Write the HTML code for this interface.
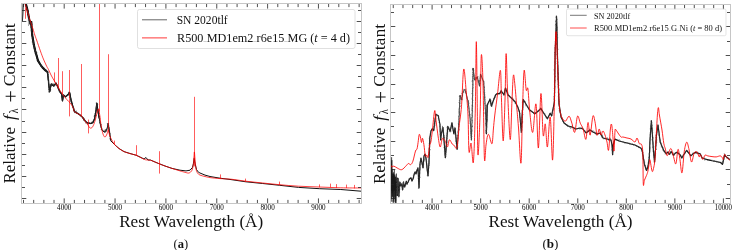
<!DOCTYPE html>
<html><head><meta charset="utf-8"><title>Spectra comparison</title><style>
html,body{margin:0;padding:0;background:#fff;}
body{width:735px;height:250px;overflow:hidden;}
svg{display:block;}
text{font-family:"Liberation Serif","DejaVu Serif",serif;fill:#111;}
.tl{font-size:7.5px;fill:#000;}
.lg1{font-size:12.2px;}
.lg2{font-size:8.2px;}
.xl{font-size:17.6px;}
.cap{font-size:12.5px;}
</style></head>
<body>
<svg width="735" height="250" viewBox="0 0 735 250">
<defs><clipPath id="cl"><rect x="21.5" y="3.5" width="340" height="200"/></clipPath><clipPath id="cr"><rect x="390.5" y="4.5" width="340" height="199"/></clipPath></defs>
<rect width="735" height="250" fill="#fff"/>
<g clip-path="url(#cl)" fill="none" stroke-linejoin="round" stroke-linecap="round">
<polyline points="25.6,3.0 27.5,10.0 29.3,20.0 30.5,24.0 31.2,22.0 32.2,35.0 33.8,44.6 35.3,51.0 38.0,60.6 40.0,64.0 42.5,67.5 45.5,70.5 47.5,72.0 49.6,92.0 50.4,88.0 51.2,84.0 53.6,86.0 56.0,83.0 57.6,86.4 60.0,92.0 61.6,94.0 62.5,101.0 63.4,95.0 65.6,96.8 68.8,93.6 69.6,92.4 71.0,100.0 74.4,111.6 77.0,113.0 80.4,115.2 82.8,117.6 85.0,121.0 87.6,123.0 91.0,123.5 93.0,122.5 94.5,119.0 96.0,111.0 96.8,103.0 97.6,109.0 99.0,117.0 100.5,125.0 102.0,130.0 104.0,132.0 106.0,131.0 107.5,127.0 108.2,123.5 108.9,128.0 110.8,140.8 114.4,144.4 119.0,148.5 124.0,151.6 130.0,153.5 136.0,155.2 140.0,157.0 144.0,159.0 146.0,157.5 148.0,160.0 150.4,160.0 155.0,162.0 158.8,163.6 165.0,166.0 172.0,168.4 180.0,170.2 186.0,170.9 190.0,170.2 192.5,167.4 193.5,163.2 194.2,158.3 195.0,163.2 196.5,169.5 198.5,172.3 200.0,173.0 205.0,175.1 210.0,176.5 220.0,178.2 231.0,179.6 245.9,181.8 262.7,183.5 279.6,185.3 298.6,187.4 319.7,188.7 340.8,189.5 361.0,191.2" stroke="#111" stroke-width="1.0"/>
<polyline points="25.6,3.0 27.5,10.0 29.3,20.0 30.5,24.0 31.2,22.0 32.2,35.0 33.8,44.6 35.3,51.0 38.0,60.6 40.0,64.0 42.5,67.5 45.5,70.5 47.5,72.0 49.6,92.0 50.4,88.0 51.2,84.0 53.6,86.0 56.0,83.0 57.6,86.4 60.0,92.0 61.6,94.0 62.5,101.0 63.4,95.0 65.6,96.8 68.8,93.6 69.6,92.4 71.0,100.0 74.4,111.6 77.0,113.0 80.4,115.2 82.8,117.6 85.0,121.0 87.6,123.0 91.0,123.5 93.0,122.5 94.5,119.0 96.0,111.0 96.8,103.0 97.6,109.0 99.0,117.0" stroke="#111" stroke-width="1.25"/>
<polyline points="25.6,3.0 27.5,10.0 29.3,20.0 30.5,24.0 31.2,22.0 32.2,35.0 33.8,44.6 35.3,51.0 38.0,60.6 40.0,64.0 42.5,67.5 45.5,70.5 47.5,72.0" stroke="#111" stroke-width="2.1"/>
<polyline points="28.3,19 28.5,26 29,22" stroke="#999" stroke-width="0.6"/>
<polyline points="22,3 22.2,12 22.4,21 23,14 23.5,3" stroke="#222" stroke-width="0.8"/>
<polyline points="25.1,2.0 26.1,1.5 25.9,2.1 26.6,4.9 26.8,4.9 26.6,5.7 26.2,6.6 26.1,6.8 27.2,7.7 26.8,10.2 27.2,8.3 27.4,8.9 27.3,9.7 28.5,10.6 27.8,11.9 28.7,11.7 27.7,14.7 27.4,12.8 28.5,15.8 27.9,12.2 28.7,14.5 28.3,16.0 28.7,16.5 28.5,18.0 29.5,17.5 28.8,18.8 29.3,17.8 29.0,20.3 29.3,19.7 29.6,20.6 29.7,19.6 30.7,22.2 29.7,23.5 30.4,23.3 31.0,26.0 31.0,24.8 31.9,21.7 31.0,22.7 30.5,22.4 31.9,24.2 31.6,22.2 32.4,25.0 31.8,25.5 30.7,24.4 31.0,28.1 31.2,26.7 31.5,28.1 31.9,28.4 31.2,26.0 31.8,29.7 32.4,30.0 31.6,31.0 31.2,30.3 31.5,32.2 33.0,33.2 32.6,33.4 32.2,33.4 32.0,32.2 31.7,33.8 32.7,36.2 32.9,37.6 32.4,37.7 33.5,37.4 33.2,37.9 32.1,38.7 32.5,39.3 32.8,40.1 32.1,42.3 33.8,40.7 32.9,41.6 33.7,42.6 33.7,41.0 33.1,44.6 33.8,42.6 33.4,43.3 33.5,46.3 34.0,46.9 34.3,45.2 34.1,49.2 34.2,46.8 35.3,48.5 34.8,50.4 34.2,50.1 34.7,49.1 34.9,52.1 35.4,49.9 35.1,53.6 36.3,51.8 37.1,53.1 35.6,53.9 36.7,56.1 37.0,54.8 36.4,54.5 36.8,55.9 37.1,55.8 36.9,56.8 36.8,57.1 37.0,57.7 37.9,59.5 37.2,60.5 38.1,61.9 38.2,61.0 38.3,61.8 39.2,62.5 39.2,63.4 39.7,63.7 39.6,64.2 39.9,63.7 40.8,66.9 41.5,65.5 41.3,66.9 42.4,67.6 42.1,67.2 42.3,67.2 42.5,67.7 42.4,67.3 44.0,67.9 44.5,68.0 44.5,70.0 44.6,69.4 46.6,69.9 45.7,70.3 46.5,71.2 47.5,72.4 47.3,71.7 46.9,71.2 47.3,73.9 47.7,74.6 48.2,74.3 48.8,74.5 47.6,75.2 48.5,76.1 47.7,77.2 48.6,77.4 48.0,79.1 48.7,79.5 47.9,79.5 48.5,78.2 48.9,80.6 48.3,83.2 48.6,81.0 48.6,82.8 49.0,82.9 48.3,82.9 48.4,83.2 48.8,84.3 48.9,84.6 48.6,85.8 48.9,87.6 48.7,87.3 49.1,86.6 49.6,88.5 48.3,89.5 49.8,88.8 50.2,90.3 48.9,91.3 49.4,90.2 48.6,92.2 49.4,91.9 50.0,90.2 49.8,91.6 50.9,90.0 50.1,87.8 50.2,89.5 50.7,87.1 50.1,86.8 50.4,86.0 51.3,86.3 51.1,84.4 51.3,85.7 51.9,83.1 52.9,85.0 54.2,84.8 53.1,85.3 53.8,85.5 53.3,83.7 54.3,84.5 54.5,86.4 55.6,85.0 55.4,83.8 55.9,82.8 56.6,84.1 56.7,84.3 56.1,84.0 57.2,84.9 57.0,86.2 57.2,85.8 58.2,86.6 58.7,88.0 58.7,89.1 57.6,88.6 58.2,88.8 59.0,90.9 59.3,91.8 59.3,90.8 59.8,92.3 60.0,91.4 60.2,91.2 61.4,93.7 61.4,93.8 61.3,93.6 62.1,93.9 61.4,96.7 62.6,96.2 62.2,96.7 62.7,96.8 62.1,98.3 62.8,98.2 62.4,98.6 62.0,99.1 62.5,101.2 62.2,100.5 62.4,100.7 63.0,98.7 62.9,98.3 63.2,97.7 62.5,97.4 63.0,96.5 63.2,96.9 63.3,96.4 63.7,94.9 63.4,95.0 63.0,95.8 64.2,95.3 64.8,96.4 65.7,97.2 65.7,97.0 66.7,95.5 67.0,96.2 67.6,95.6 67.9,95.5 69.3,94.5 68.1,95.2 68.9,91.8 68.5,92.8 70.2,93.9 69.7,95.0 69.9,93.8 70.1,95.1 70.2,95.9 69.3,97.6 70.2,97.4 70.2,97.6 70.6,96.7 70.9,99.3 70.4,97.5 70.7,99.2 71.2,100.6 72.1,101.7 71.4,101.9 70.4,101.5 71.4,102.8 72.2,103.7 72.6,103.4 72.5,104.5 72.5,105.5 72.6,106.0 72.9,107.3 73.0,107.2 74.4,108.1 73.6,109.1 73.1,109.3 74.1,109.7 74.3,110.6 74.6,109.9 74.4,110.5 75.0,111.7 74.5,112.0 75.2,113.2 76.2,110.7 76.8,113.9 77.7,112.8 78.4,114.3 79.4,114.9 79.4,113.8 80.0,115.1 80.4,115.6 80.3,116.2 81.4,116.5 81.8,116.4 82.4,117.8 82.7,117.9 82.8,118.5 83.5,117.6 84.4,118.5 84.3,118.7 83.9,121.0 84.4,119.1 85.4,120.0 85.9,123.4 86.4,122.5 87.3,122.8 87.5,124.3 88.2,123.4 89.0,122.1 89.8,123.3 90.6,124.0 91.7,121.8 91.4,122.7 91.9,123.2 93.0,122.6 92.5,121.1 93.5,120.9 93.5,120.6 93.9,119.2 95.0,119.0 94.8,119.5 95.0,117.9 94.3,118.2 95.0,115.1 93.8,116.1 94.9,115.7 95.4,114.4 96.5,115.5 96.0,114.3 94.6,113.7 95.4,113.2 95.7,112.8 95.5,111.3 96.0,110.3 95.9,110.9 97.0,109.6 96.6,108.1 96.0,108.8 96.6,107.0 96.6,107.4 97.0,107.5 96.7,105.7 96.7,104.7 96.2,103.2 96.1,103.1 96.7,103.7 96.2,102.9 97.1,104.4 96.9,104.4 96.9,105.6 96.4,105.6 96.2,107.5 97.7,104.7 97.1,105.9 96.7,107.4 97.1,109.3 97.4,108.0 97.7,110.0 98.2,110.7 97.3,110.1 97.9,110.7 98.5,111.8 98.2,112.4 98.4,112.0 99.4,113.4 98.2,113.0 98.6,113.9 98.9,116.8 99.2,116.0 99.6,116.8 99.1,117.7 99.0,118.6 98.8,117.3 100.0,118.8 99.4,120.4 99.5,119.6 99.7,120.5 100.2,121.5 99.9,123.2 99.5,121.8 100.6,124.9 100.4,123.7 101.0,125.4 101.1,124.0 100.8,125.3 100.6,127.4 101.6,127.1 101.3,129.3 101.9,128.6 102.0,129.5 101.4,129.5 102.6,131.0 102.5,130.3 103.2,130.1 104.5,132.4 105.2,129.7 105.0,132.9 105.4,129.4 106.3,131.8 106.7,129.0 106.9,129.6 107.0,129.0 107.4,129.2 107.9,128.5 107.4,125.3 107.9,125.0 108.8,124.6 107.1,123.3 108.2,124.5 108.5,123.7 107.9,124.9 108.1,123.4 108.9,125.9 108.2,125.8 109.1,127.5 108.3,128.3 107.7,128.1 109.2,128.5 109.1,127.8 109.1,130.3 108.8,130.5 109.3,129.0 109.2,132.2 108.8,132.3 109.8,131.7 109.6,134.3 110.1,133.2 110.3,135.0 110.0,136.6 110.4,136.2 110.6,137.1 110.8,137.0 109.6,139.1 110.8,138.8 110.5,138.9 110.7,138.7 111.0,140.3 110.8,140.8" stroke="#333" stroke-width="0.5"/>
<path d="M24.80,3.00C25.17,4.17 26.13,7.17 27.00,10.00C27.87,12.83 29.00,16.83 30.00,20.00C31.00,23.17 32.20,26.50 33.00,29.00C33.80,31.50 34.20,33.17 34.80,35.00C35.40,36.83 35.67,37.33 36.60,40.00C37.53,42.67 39.27,47.83 40.40,51.00C41.53,54.17 42.33,56.42 43.40,59.00C44.47,61.58 45.95,64.75 46.80,66.50C47.65,68.25 47.80,68.08 48.50,69.50C49.20,70.92 50.02,73.08 51.00,75.00C51.98,76.92 53.23,79.00 54.40,81.00C55.57,83.00 56.80,85.00 58.00,87.00C59.20,89.00 60.43,91.25 61.60,93.00C62.77,94.75 63.80,96.07 65.00,97.50C66.20,98.93 67.80,100.52 68.80,101.60C69.80,102.68 70.20,102.80 71.00,104.00C71.80,105.20 73.03,107.53 73.60,108.80C74.17,110.07 73.27,110.53 74.40,111.60C75.53,112.67 79.00,114.20 80.40,115.20C81.80,116.20 82.03,116.63 82.80,117.60C83.57,118.57 84.13,119.77 85.00,121.00C85.87,122.23 87.17,123.83 88.00,125.00C88.83,126.17 89.25,127.67 90.00,128.00C90.75,128.33 91.67,128.17 92.50,127.00C93.33,125.83 94.25,123.33 95.00,121.00C95.75,118.67 96.40,115.00 97.00,113.00C97.60,111.00 98.10,108.33 98.60,109.00C99.10,109.67 99.60,114.33 100.00,117.00C100.40,119.67 100.50,122.17 101.00,125.00C101.50,127.83 102.33,132.00 103.00,134.00C103.67,136.00 104.33,137.00 105.00,137.00C105.67,137.00 106.47,135.17 107.00,134.00C107.53,132.83 107.78,129.83 108.20,130.00C108.62,130.17 109.03,133.58 109.50,135.00C109.97,136.42 110.18,136.93 111.00,138.50C111.82,140.07 113.07,142.73 114.40,144.40C115.73,146.07 117.40,147.30 119.00,148.50C120.60,149.70 122.17,150.75 124.00,151.60C125.83,152.45 128.00,153.00 130.00,153.60C132.00,154.20 134.33,154.60 136.00,155.20C137.67,155.80 138.40,156.43 140.00,157.20C141.60,157.97 143.87,159.30 145.60,159.80C147.33,160.30 148.83,159.83 150.40,160.20C151.97,160.57 153.60,161.43 155.00,162.00C156.40,162.57 157.13,162.93 158.80,163.60C160.47,164.27 162.80,165.20 165.00,166.00C167.20,166.80 169.50,167.58 172.00,168.40C174.50,169.22 177.83,170.25 180.00,170.90C182.17,171.55 183.50,171.95 185.00,172.30C186.50,172.65 187.83,173.35 189.00,173.00C190.17,172.65 191.28,171.60 192.00,170.20C192.72,168.80 192.97,166.93 193.30,164.60C193.63,162.27 193.82,158.30 194.00,156.20C194.18,154.10 194.23,151.53 194.40,152.00C194.57,152.47 194.73,156.20 195.00,159.00C195.27,161.80 195.58,166.47 196.00,168.80C196.42,171.13 196.83,171.95 197.50,173.00C198.17,174.05 198.75,174.52 200.00,175.10C201.25,175.68 203.33,176.08 205.00,176.50C206.67,176.92 207.50,177.25 210.00,177.60C212.50,177.95 216.50,178.33 220.00,178.60C223.50,178.87 226.68,178.77 231.00,179.20C235.32,179.63 240.62,180.57 245.90,181.20C251.18,181.83 257.08,182.42 262.70,183.00C268.32,183.58 273.62,184.17 279.60,184.70C285.58,185.23 291.92,185.82 298.60,186.20C305.28,186.58 312.67,186.73 319.70,187.00C326.73,187.27 333.92,187.63 340.80,187.80C347.68,187.97 357.63,187.97 361.00,188.00" stroke="#f00" stroke-width="0.75"/>
<g stroke="#f00" stroke-width="0.75" stroke-opacity="0.85"><line x1="25.5" y1="8" x2="25.5" y2="18.4"/><line x1="54.5" y1="72.8" x2="54.5" y2="82"/><line x1="58.5" y1="58.4" x2="58.5" y2="88"/><line x1="62.5" y1="71.6" x2="62.5" y2="94"/><line x1="69.5" y1="70.4" x2="69.5" y2="116"/><line x1="81.5" y1="64.4" x2="81.5" y2="116"/><line x1="88.5" y1="120" x2="88.5" y2="133"/><line x1="99.5" y1="3" x2="99.5" y2="111"/><line x1="108.5" y1="54.6" x2="108.5" y2="131"/><line x1="114.5" y1="141" x2="114.5" y2="144.6"/><line x1="136.5" y1="145.6" x2="136.5" y2="155.5"/><line x1="159.5" y1="151.6" x2="159.5" y2="173.2"/><line x1="194.5" y1="97.2" x2="194.5" y2="166"/><line x1="220.5" y1="174.8" x2="220.5" y2="178.2"/><line x1="245.5" y1="179" x2="245.5" y2="181.5"/><line x1="279.5" y1="182" x2="279.5" y2="184.8"/><line x1="319.5" y1="184.8" x2="319.5" y2="187"/><line x1="330.5" y1="184" x2="330.5" y2="187.3"/><line x1="336.5" y1="184.5" x2="336.5" y2="187.5"/><line x1="346.5" y1="185" x2="346.5" y2="187.7"/><line x1="354.5" y1="185.3" x2="354.5" y2="188"/></g>
</g>
<g clip-path="url(#cr)" fill="none" stroke-linejoin="round" stroke-linecap="round">
<polyline points="390.7,159.9 390.8,197.6 391.0,161.4 391.1,198.5 391.3,164.5 391.4,190.9 391.6,157.2 391.8,201.7 391.9,160.1 392.1,193.3 392.2,168.9 392.4,196.6 392.5,176.0 392.7,196.7 392.8,173.7 393.0,192.1 393.1,173.6 393.3,202.2 393.4,172.3 393.6,200.4 393.7,174.1 393.9,190.9 394.0,175.1 394.2,198.3 394.3,169.6 394.5,190.4 394.6,176.4 394.8,196.6 394.9,174.6 395.1,202.3 395.2,180.6 395.4,202.9 395.5,176.7 395.7,201.2 395.8,177.3 396.0,203.1 396.1,182.5 396.3,191.4 396.4,173.6 396.6,193.0 396.7,183.6 396.9,196.1 397.0,179.5 397.2,194.2 397.0,193.0" stroke="#1a1a1a" stroke-width="0.55"/>
<polyline points="397.0,179.5 397.2,194.2 397.3,178.1 397.5,195.4 397.0,193.0 398.0,178.4 398.9,196.8 399.8,182.0 400.7,185.8 401.7,184.0 402.6,190.0 403.5,182.0 404.4,187.0 405.0,186.0 406.3,181.2 407.0,184.0 408.1,182.0 409.0,180.0 410.0,178.4 411.0,178.0 412.0,181.0 413.0,179.0 414.0,175.0 415.0,172.0 416.0,174.0 417.0,170.0 418.0,168.0 419.0,188.0 420.0,164.0 421.0,158.0 422.0,163.0 423.0,168.0 424.0,156.0 425.0,154.0 426.0,158.0 427.0,168.0 428.0,176.0 429.0,162.0 429.8,138.0 431.0,131.0 432.2,128.8 433.7,130.6 435.8,114.4 438.2,115.6 439.9,124.0 440.6,140.0 441.5,133.0 443.0,127.6 445.4,157.6 447.8,126.4 450.2,131.2 451.9,122.8 453.8,133.6 455.0,128.0 457.2,149.0" stroke="#111" stroke-width="1.15"/>
<polyline points="457.2,149.0 459.0,120.0 460.0,95.0 461.5,100.0 463.0,92.0 464.8,89.4 466.5,95.0 468.4,103.4 470.2,120.0 471.4,140.0 472.3,110.0 473.2,68.0 474.6,80.0 477.4,76.8 479.5,86.0 480.6,74.0 483.7,82.0 485.4,110.0 486.4,133.8 487.2,105.0" stroke="#333" stroke-width="0.8"/>
<polyline points="486.4,133.8 487.2,105.0 490.0,99.2 491.4,106.2 492.8,102.0 495.6,95.0 497.0,93.6 499.8,93.6 501.2,90.8 504.0,95.0 505.4,88.0 508.2,95.0 512.4,99.2 515.2,102.0 518.0,107.6 519.5,112.0 520.6,124.0 521.4,132.0 522.3,112.0 523.3,99.5 526.4,104.8 529.2,109.5 530.5,110.5 532.4,112.0 534.8,113.8 537.0,112.0 539.5,110.0 540.8,108.4 542.6,111.4 545.0,115.0 547.4,118.8 550.2,113.2 551.6,116.0 554.4,102.0 555.2,50.0 556.1,28.0 556.5,16.2 556.9,28.0 557.3,50.0 559.0,104.0 561.0,117.0 564.0,123.0 568.0,126.0 572.0,127.0 576.0,129.0 580.0,128.0 583.0,129.0 586.0,133.0 590.0,130.0 593.0,132.0 597.0,134.0 600.0,133.0 603.0,138.0 607.0,139.0 611.0,140.0 612.0,145.0 612.6,154.6 613.2,145.0 615.0,139.0 619.0,141.0 623.0,142.0 627.0,143.0 631.0,144.0 635.0,145.0 638.0,146.4 641.0,148.2 642.2,150.6 644.4,164.2 646.5,170.5 647.9,167.0 649.3,158.0 650.0,140.0 651.4,120.8 652.4,135.0 653.5,152.0 654.5,162.0 655.5,150.0 656.5,135.0 658.0,125.0 660.2,142.0 663.8,150.6 666.2,153.6 668.0,151.8 669.2,154.5 671.3,151.7 673.4,155.2 676.2,152.4 678.3,153.1 680.4,155.2 681.8,158.0 683.9,154.5 686.7,150.3 688.8,153.1 690.9,155.9 693.0,153.8 695.1,152.4 697.9,153.1 700.1,153.8 702.2,158.0 704.3,158.7 706.4,159.4 709.2,160.1 712.0,160.8 716.2,161.5 720.4,162.5 722.5,164.3 723.2,161.5 724.6,155.0 726.0,156.6 728.8,158.7 730.0,159.4" stroke="#111" stroke-width="1.15"/>
<polyline points="396.9,179.9 396.9,179.9 396.7,180.6 397.4,181.7 397.4,182.1 397.2,182.7 396.5,183.8 397.2,184.2 396.5,183.2 396.7,184.7 397.2,185.6 397.3,185.8 397.2,187.1 396.8,188.7 397.3,188.9 396.9,188.2 397.0,189.2 397.3,190.1 397.0,189.9 396.9,192.0 396.8,191.9 397.3,191.3 397.2,193.9 396.4,193.4 397.1,193.6 397.3,193.6 396.6,193.6 397.4,193.0 397.7,192.0 397.2,190.2 397.4,190.1 397.0,189.0 396.9,188.9 397.7,187.2 396.7,188.2 397.7,187.8 396.6,185.0 397.4,185.6 396.8,186.2 397.6,185.0 397.3,184.6 397.8,184.1 397.4,183.4 396.7,183.3 397.6,182.2 396.6,180.7 397.6,179.3 397.2,180.7 396.8,180.5 397.5,178.6 397.4,178.5 397.3,179.5 397.1,179.0 397.7,180.0 397.0,181.2 397.8,180.9 396.8,181.7 397.3,182.2 397.8,182.3 397.8,182.8 397.1,184.7 397.8,185.5 397.5,185.6 397.4,186.5 397.3,186.9 397.6,187.4 397.7,188.4 398.1,188.8 397.2,189.0 397.4,190.5 397.3,190.7 398.1,189.3 397.0,191.9 397.6,192.5 397.3,193.4 397.5,193.2 398.3,194.4 397.3,194.7 397.4,195.4 396.4,194.5 397.6,193.4 397.1,194.3 397.3,194.0 396.4,192.1 397.0,192.2 397.5,189.3 397.5,189.6 397.4,188.9 397.3,190.2 397.2,188.9 397.6,188.2 397.3,188.6 397.8,186.7 398.4,185.5 397.8,185.5 397.6,185.6 397.7,184.9 397.1,182.8 397.9,182.6 397.3,181.6 398.2,182.6 398.3,180.8 397.8,180.0 398.1,181.3 397.6,180.7 398.3,178.9 397.3,179.4 398.0,178.6 398.2,179.9 398.6,179.5 398.5,181.9 398.7,181.3 397.9,182.8 398.3,182.8 398.7,183.1 397.5,183.6 397.7,185.1 398.4,184.7 398.4,186.3 398.4,187.3 398.4,187.7 399.0,188.7 398.2,188.8 397.9,188.1 397.9,190.2 398.1,190.0 398.5,190.6 398.4,191.4 399.3,191.9 398.9,193.2 398.7,192.2 398.6,194.5 398.2,193.9 399.2,195.5 398.8,196.1 398.9,195.4 398.4,196.4 399.3,195.8 398.7,195.0 398.5,194.9 398.6,194.6 398.3,193.9 398.9,191.7 399.4,192.3 398.4,191.3 399.3,190.9 399.5,191.2 399.5,190.2 399.8,189.9 399.5,187.3 399.7,189.1 399.4,187.2 400.2,185.7 399.7,188.0 399.3,186.2 400.3,185.0 399.8,185.1 399.4,183.8 399.8,183.8 399.8,182.5 399.4,181.7 400.3,182.7 399.8,182.7 401.2,184.7 400.6,182.7 400.8,185.5 401.3,186.1 401.0,185.6 400.7,185.3 401.8,183.5 402.3,185.9 401.4,184.7 402.1,185.9 401.9,185.7 402.9,187.7 401.8,186.7 402.9,188.9 403.1,189.4 402.2,189.6 401.8,189.5 402.6,189.8 402.5,188.7 403.0,188.4 403.1,187.7 402.8,187.5 403.0,185.7 402.9,185.7 403.1,185.2 403.2,184.6 403.2,183.0 403.5,184.0 403.6,182.5 403.7,181.3 402.9,182.7 403.4,183.8 403.5,182.0 403.6,185.6 403.9,184.2 403.9,186.1 404.5,186.5 404.9,187.5 405.0,186.4 405.7,186.1 405.7,184.0 405.4,184.7 405.5,184.3 406.0,183.6 405.9,184.2 406.6,181.6 406.3,183.0 406.4,182.5 407.0,182.6 406.4,183.4 407.1,184.8 407.6,183.4 408.0,183.0 408.2,182.0 408.3,181.8 408.3,180.2 409.0,179.0 409.2,178.1 409.4,179.3 410.2,178.4 410.9,177.0 411.8,179.0 411.8,178.6 411.5,178.5 412.1,181.1 411.3,181.0 412.6,179.1 412.0,178.9 412.8,178.0 413.2,178.5 413.6,178.2 414.0,177.8 413.2,176.0 413.5,174.9 414.0,175.0 414.4,173.3 414.0,173.8 414.5,173.0 414.8,172.1 415.2,172.2 415.3,172.2 415.6,171.4 415.7,174.0 415.6,173.5 416.4,171.7 416.4,171.8 416.8,171.8 416.8,170.1 416.9,170.0 417.6,169.5 417.4,167.7 417.9,167.5 417.6,168.5 417.9,169.3 418.3,169.5 418.9,170.2 418.5,171.1 418.6,170.0 417.9,172.4 418.5,174.5 418.4,174.4 418.6,174.7 418.5,174.6 418.5,174.5 418.8,175.2 418.5,178.0 418.4,177.1 418.9,177.7 418.2,178.5 418.7,179.4 418.3,180.7 419.2,180.1 418.7,180.4 419.2,180.8 418.9,181.6 418.5,183.0 419.2,183.1 418.6,184.3 418.8,184.6 419.4,185.8 418.7,187.2 418.9,186.7 418.7,186.8 418.4,188.6 419.5,187.1 418.5,186.3 419.5,186.5 419.1,186.0 419.1,184.8 419.1,184.0 419.1,184.6 419.3,183.6 418.9,183.3 419.1,183.7 419.5,181.9 419.1,180.9 419.0,180.6 419.4,180.6 419.5,181.1 419.1,179.0 420.4,177.1 419.2,177.9 419.5,177.5 419.4,176.9 419.5,176.5 418.9,174.8 419.5,174.1 419.2,174.6 419.4,174.0 419.9,173.2 419.8,172.3 419.2,171.8 419.9,170.8 419.7,171.1 419.4,170.4 420.4,169.0 419.9,168.7 420.4,168.4 420.2,167.1 419.9,167.0 419.3,167.4 420.2,164.6 420.2,165.1 420.1,164.9 419.5,163.9 420.6,163.0 419.8,161.8 419.9,162.4 421.0,161.9 420.6,162.6 420.4,159.9 420.9,160.2 420.4,158.4 421.0,158.8 420.5,157.9 420.9,158.9 421.2,159.2 421.3,160.6 422.0,160.2 421.9,160.6 421.8,162.3 422.4,162.1 422.0,163.1 421.6,163.6 422.0,164.5 422.0,163.5 422.5,165.7 422.4,166.7 422.7,166.3 423.0,166.3 422.8,168.0 423.3,167.3 423.2,166.3 423.3,167.4 423.0,167.3 423.0,165.0 423.4,165.1 422.9,162.3 423.6,163.8 423.7,164.4 423.6,162.2 423.9,161.7 424.2,159.9 423.5,157.8 424.0,159.3 424.1,160.5 423.8,158.2 423.7,157.2 423.7,157.6 424.0,156.6 423.9,156.6 424.5,155.2 424.9,154.6 424.6,155.0 425.3,154.0 425.7,155.6 425.0,157.1 425.8,157.3 425.9,157.2 425.5,158.7 426.1,158.4 426.2,159.3 426.4,159.6 426.2,159.0 426.2,161.6 426.8,161.5 426.4,163.5 426.4,163.5 427.1,163.7 427.1,163.8 426.8,164.8 426.8,166.3 427.6,165.7 426.7,167.1 426.6,167.7 427.2,167.8 427.3,167.5 427.4,168.1 427.0,169.5 427.2,171.1 427.4,170.8 427.7,172.8 427.5,172.6 428.0,173.1 427.2,175.3 428.5,172.8 427.8,175.1 428.3,175.9 427.9,175.3 428.1,176.1 427.7,174.1 428.1,172.8 428.1,173.3 428.4,172.5 428.0,172.1 428.3,171.3 428.4,171.7 428.8,171.7 428.2,169.6 427.6,170.6 428.3,168.7 428.7,167.1 428.8,167.5 428.0,167.1 429.1,165.0 429.0,165.8 428.9,165.4 429.3,164.3 429.2,163.5 429.2,162.6 428.9,163.8 429.2,161.9 428.6,160.8 429.1,161.5 429.2,160.6 429.1,160.5 429.0,158.6 429.4,158.4 429.0,157.4 429.1,157.6 429.3,155.8 429.3,156.1 428.9,155.9 429.1,154.6 429.5,155.1 429.0,153.9 429.0,154.6 429.1,153.2 429.1,152.4 430.1,149.4 429.2,151.0 429.4,149.5 430.2,149.5 428.9,149.4 428.9,149.0 429.3,147.7 429.9,147.1 429.0,145.2 430.0,146.3 429.3,145.8 429.8,145.1 428.8,143.8 429.9,143.9 429.9,141.1 429.7,142.5 430.6,140.9 429.6,141.0 430.0,140.1 430.1,139.2 429.9,138.8 429.8,138.1 429.2,138.8 430.0,137.0 430.1,137.4 429.8,136.0 430.4,135.8 430.2,133.3 430.9,134.4 430.6,133.4 430.8,132.6 430.4,131.8 430.7,131.2 430.6,131.4 430.8,130.9 431.2,130.1 432.4,129.5 431.9,128.8 432.8,128.2 433.0,130.1 433.5,130.7 434.0,130.5 434.2,129.8 433.8,128.8 433.9,128.0 434.0,126.4 434.1,127.0 433.9,126.4 434.5,125.7 435.1,123.4 434.4,123.3 434.9,125.9 433.8,123.5 434.9,122.6 435.0,120.6 435.2,121.9 435.0,120.6 435.2,120.1 435.2,119.4 434.4,119.2 435.3,119.1 435.0,118.0 435.6,117.5 435.9,118.2 435.2,114.9 435.9,116.7 436.0,115.6 435.6,113.9 436.7,114.1 436.4,114.3 438.5,116.6 438.0,115.1 438.4,115.7 438.9,116.7 438.2,118.3 438.5,118.2 438.8,118.4 439.0,118.7 438.4,118.3 438.7,119.9 439.3,121.0 439.6,121.7 439.3,121.7 438.9,122.7 439.9,123.8 439.9,123.9 440.3,124.6 440.2,125.6 440.1,126.8 439.8,126.2 439.8,126.5 440.6,128.9 440.1,128.7 440.5,129.5 440.6,128.7 439.9,130.5 440.7,130.8 439.9,131.1 440.0,131.4 440.8,132.2 440.3,134.7 440.7,134.1 440.1,134.7 441.0,135.5 440.9,135.8 440.6,136.2 440.6,137.8 440.0,137.5 440.6,137.8 440.4,139.3 441.3,139.8 440.7,138.9 441.4,139.4 440.8,137.9 440.8,137.3 441.0,137.8 441.0,137.0 440.8,137.2 440.9,134.3 441.2,134.4 441.0,134.0 441.5,132.8 441.5,134.0 441.9,132.3 441.9,131.7 442.0,131.7 442.1,128.9 442.3,129.4 442.7,129.0 442.7,130.3 442.5,127.4 442.5,125.9 442.4,128.5 442.9,127.5 442.6,129.8 442.9,129.7 443.4,131.5 444.0,131.9 443.4,131.9 444.0,133.4 443.3,133.3 443.6,133.6 443.4,133.3 443.4,133.7 444.1,135.8 443.2,137.0 444.0,135.3 444.4,137.8 444.5,136.9 444.0,138.7 444.0,139.1 444.3,138.6 443.6,139.2 443.9,140.4 444.2,141.6 444.2,141.5 444.0,143.3 444.5,143.3 444.2,144.9 444.1,144.9 444.8,144.8 444.7,144.8 444.8,146.3 444.0,147.3 444.3,148.3 444.4,147.9 444.8,148.4 444.8,148.8 445.0,149.8 444.9,148.5 445.3,151.0 444.3,151.7 445.1,152.9 444.6,153.9 445.0,155.1 445.1,154.5 445.0,153.8 445.6,155.8 445.8,156.4 445.1,155.2 445.1,156.5 445.1,158.0 445.6,156.8 445.6,156.3 445.6,156.3 445.9,154.7 445.1,155.6 445.7,154.8 445.1,153.2 445.8,151.8 445.6,152.7 446.2,152.7 445.6,150.0 446.1,151.1 446.1,148.9 446.3,149.8 446.3,148.3 446.2,148.6 446.0,146.1 446.3,147.1 446.3,146.8 446.1,145.5 446.3,145.4 447.0,144.2 447.2,144.9 446.8,143.6 447.2,142.5 446.6,141.3 446.8,142.3 446.9,141.1 446.7,140.3 446.3,140.3 446.7,138.2 446.6,137.8 447.2,138.5 446.5,137.8 447.3,136.2 446.5,135.5 446.9,135.6 447.0,133.4 447.3,133.1 447.6,132.8 447.0,132.4 447.1,133.3 447.7,132.2 447.5,130.1 447.3,130.2 447.2,130.4 447.3,128.9 447.2,127.4 447.9,129.1 447.8,126.9 446.8,127.1 448.2,126.6 448.4,128.0 448.8,127.3 449.1,128.7 448.5,128.5 448.8,129.3 449.8,129.3 449.2,131.5 450.3,132.2 449.9,131.3 451.2,131.4 450.5,129.6 450.6,129.5 451.2,128.3 450.5,128.1 450.9,127.4 451.3,127.5 451.7,125.5 451.5,126.4 451.3,124.9 452.1,124.9 452.0,122.5 451.5,123.0 452.1,125.2 451.8,124.8 452.5,123.4 452.0,125.3 452.3,125.7 452.7,125.8 452.8,126.6 452.6,128.0 452.6,128.4 453.5,128.8 453.0,129.9 453.0,130.8 452.8,131.0 453.2,130.6 454.1,131.2 454.2,132.9 454.2,132.3 454.2,134.6 453.9,132.9 454.9,132.5 454.1,131.3 454.5,131.3 454.5,131.7 454.5,130.2 455.2,128.5 455.2,129.9 454.5,127.2 454.7,127.3 455.3,127.9 455.4,130.8 454.7,130.2 454.6,131.5 455.1,131.4 455.5,132.6 455.4,132.8 455.4,133.5 455.2,134.0 455.0,134.3 456.4,135.3 455.4,136.0 455.5,135.2 455.7,137.5 456.1,137.5 455.7,137.4 456.6,139.0 455.9,137.9 455.8,141.7 455.9,140.5 456.5,141.1 456.3,140.8 456.1,143.6 456.3,143.6 456.0,143.4 456.8,144.9 456.4,145.2 457.0,144.9 457.1,145.4 456.7,146.6 456.1,147.1 456.7,146.8 457.0,148.9 457.1,149.9 456.8,147.5 457.8,148.1 457.6,146.6 457.6,146.8 457.6,146.0 457.8,144.9 457.1,143.7 457.9,143.6 457.2,142.9 457.4,142.1 457.5,141.9 457.5,141.1 457.7,140.8 457.8,140.7 457.9,138.4 457.6,138.8 458.1,137.6 457.6,137.9 457.8,138.2 457.8,137.6 457.5,135.0 458.5,136.0 458.2,135.2 458.3,133.6 458.5,133.5 458.5,133.4 457.5,131.8 458.6,132.0 458.1,131.6 458.2,130.5 458.4,130.4 458.9,129.7 459.1,130.3 459.1,129.2 458.6,128.0 458.5,126.7 458.6,126.2 459.2,126.4 458.5,124.1 458.7,124.5 458.4,123.4 458.0,124.0 458.8,124.8 458.8,122.3 459.4,121.9 459.0,120.9 458.8,121.7 459.4,121.2 458.9,119.4 458.7,119.5 458.6,118.6 459.5,118.5 458.8,117.7 458.9,115.8 458.7,116.5 459.8,114.7 459.0,114.3 460.1,114.6 459.1,112.0 459.1,113.5 460.0,111.9 459.1,111.1 458.7,111.5 459.0,111.0 458.8,108.7 459.5,108.5 459.7,108.4 459.1,108.2 459.8,105.9 460.2,106.9 459.8,104.7 459.3,105.1 460.0,103.7 459.3,102.7 459.6,103.8 459.1,102.5 459.9,103.4 460.0,101.5 459.3,100.4 459.5,100.6 459.8,101.0 459.9,98.5 460.4,99.3 459.9,97.5 459.2,96.7 460.2,96.3 459.5,96.4 460.1,96.0 460.2,96.0 459.9,96.3 460.0,96.7 460.6,97.0 461.1,97.5 461.3,98.7 461.2,98.4 461.0,99.0 461.4,100.0 462.7,99.8 462.0,98.2 461.6,97.9 462.0,96.8 462.6,96.5 462.6,94.7 462.3,95.9 462.5,95.5 462.6,94.6 462.0,93.3 461.9,93.7 463.0,92.5 462.7,91.6 464.0,92.7 463.7,91.9 463.5,89.1 464.3,89.3 464.6,89.5 466.0,89.6 465.2,90.8 465.4,91.9 466.2,91.0 465.8,92.3 466.1,92.1 465.5,92.1 466.5,94.5 466.5,93.3 466.5,95.1 466.3,95.6 467.2,97.2 467.0,97.8 467.0,98.0 467.3,99.0 467.4,99.1 467.5,99.3 468.5,100.8 468.0,102.6 468.5,100.5 468.4,102.8 468.9,103.7 468.7,102.6 468.2,104.2 468.7,103.9 468.5,105.0 468.7,106.1 468.6,105.6 469.2,108.2 468.8,108.4 469.1,108.8 469.2,108.4 469.3,110.3 468.8,111.5 469.9,112.1 470.0,111.9 469.2,111.6 469.1,112.7 469.5,113.7 468.8,115.5 470.4,114.4 469.9,115.4 469.8,115.6 469.8,115.7 469.9,116.9 470.0,116.9 470.0,118.2 470.3,118.0 470.3,120.1 470.4,119.7 470.1,120.4 470.5,122.3 470.3,121.4 470.5,122.6 470.1,122.5 470.4,124.1 470.0,123.5 470.7,124.0 470.6,125.7 470.5,125.3 470.6,126.4 470.8,126.7 471.1,126.7 470.6,128.5 471.1,128.7 471.0,129.3 471.1,131.5 470.7,131.2 470.6,132.2 471.4,132.1 470.6,133.0 471.4,134.1 471.3,132.7 470.8,135.5 470.7,135.9 471.8,136.3 471.6,136.1 470.8,136.9 471.2,137.5 471.5,138.1 471.4,139.1 471.4,140.7 471.6,140.1 471.3,139.0 471.9,138.9 471.1,137.8 471.4,137.3 471.9,136.2 471.7,136.5 471.1,135.8 471.5,135.6 471.4,134.8 471.0,133.2 471.9,134.1 471.6,132.4 472.0,130.7 471.4,132.1 471.9,130.3 471.0,131.4 471.8,129.2 471.7,129.8 470.8,129.4 472.0,126.5 472.0,126.2 472.2,127.1 472.6,125.8 471.8,126.3 471.6,124.5 471.7,124.3 471.5,124.1 472.1,123.3 472.5,122.4 472.4,121.6 472.2,120.0 472.0,120.7 471.8,119.8 471.9,119.1 471.3,118.6 471.9,118.0 471.7,117.7 472.4,117.0 471.9,117.6 472.5,116.6 472.5,115.2 472.1,115.6 472.0,114.1 472.3,113.9 472.1,113.7 472.2,112.9 472.6,112.3 472.5,110.4 471.8,110.2 472.5,111.1 471.9,109.6 472.0,108.3 472.2,108.7 472.4,108.4 472.0,107.6 472.7,106.4 472.6,105.4 472.0,104.9 472.2,106.6 472.3,105.2 472.5,103.6 472.7,102.3 472.8,102.5 471.9,102.0 472.7,101.3 473.1,100.1 472.7,100.3 472.2,100.0 472.0,97.7 472.7,97.2 472.5,96.2 472.6,96.0 472.7,95.1 472.8,95.4 472.6,95.0 472.7,93.5 471.7,93.8 472.3,92.9 472.8,91.2 472.4,91.6 472.3,91.6 472.7,90.2 472.4,90.8 472.5,90.0 472.9,87.7 472.4,88.4 472.9,88.3 473.1,87.9 472.7,86.5 473.1,85.7 473.2,84.3 473.1,84.7 472.2,84.9 473.0,83.6 472.5,82.7 473.4,81.8 471.7,81.2 472.5,81.1 472.8,80.0 472.6,80.7 472.5,80.8 472.8,78.0 473.3,78.6 472.6,78.1 472.4,76.4 473.4,76.2 472.6,76.2 473.4,75.2 472.4,74.4 473.2,74.5 473.7,73.2 472.9,72.8 473.5,71.5 473.6,69.7 473.4,70.5 473.3,70.9 472.7,69.7 473.3,69.6 472.9,67.9 472.5,69.8 473.2,68.4 472.8,69.9 473.2,70.8 473.8,70.4 473.8,70.2 473.5,71.2 473.2,72.2 473.7,73.8 472.7,72.9 473.6,73.7 474.1,74.9 474.0,74.9 474.3,76.1 473.5,76.2 473.8,76.2 474.4,77.6 474.4,77.6 474.4,78.2 474.7,79.9 475.2,80.9 474.7,79.2 475.1,79.3 476.5,79.1 475.4,77.3 476.1,78.1 477.0,77.5 478.0,76.2 477.2,78.8 477.8,77.5 477.1,77.6 477.1,79.3 478.1,80.6 478.2,80.0 478.1,82.4 477.9,81.8 478.7,82.8 478.7,83.3 479.2,83.4 478.9,84.0 478.9,84.6 479.3,85.5 480.0,86.9 479.4,85.8 479.7,85.3 479.7,84.4 479.6,83.1 480.1,83.9 480.1,82.7 480.0,81.5 479.3,81.7 480.1,80.2 479.7,80.9 479.5,80.6 480.4,80.5 480.0,78.2 480.1,77.7 480.3,76.5 480.8,75.9 480.3,76.2 480.3,74.9 480.7,74.3 480.2,73.9 480.7,75.8 480.7,75.8 481.0,75.5 481.4,76.5 482.0,78.1 481.7,78.4 482.5,78.6 482.1,79.2 482.6,79.4 482.7,80.2 483.4,81.1 483.2,81.6 484.0,80.8 484.2,81.1 483.9,83.0 484.3,83.4 483.6,83.3 483.4,85.0 483.8,84.5 484.1,85.1 483.8,85.9 484.6,87.9 484.0,86.4 484.2,88.1 484.2,89.1 484.0,90.0 484.5,90.1 484.1,90.2 484.5,90.4 484.2,91.2 483.8,92.8 484.4,93.0 484.7,92.5 484.4,94.4 484.8,94.0 484.8,95.5 485.0,96.8 484.8,98.1 484.6,96.9 484.5,97.2 484.7,97.1 484.7,99.3 485.1,99.4 485.3,99.8 484.8,99.6 484.6,100.9 485.4,102.4 484.6,103.1 485.2,103.1 485.0,103.7 484.9,103.3 485.1,106.0 485.6,105.5 484.9,106.2 485.5,107.2 485.1,107.8 485.2,108.5 485.2,107.8 485.4,109.9 485.0,109.9 485.7,110.4 485.2,112.6 485.8,112.5 485.2,113.6 485.0,112.7 485.8,114.6 485.3,113.8 485.7,113.6 485.8,115.9 485.5,116.5 485.9,116.9 485.9,118.4 485.6,118.0 485.6,119.2 485.6,119.5 485.9,119.8 486.4,120.3 486.3,121.5 486.3,121.5 486.2,122.7 485.7,123.0 485.9,123.4 486.4,123.5 485.4,123.5 485.9,124.8 486.1,126.2 486.7,126.7 486.3,126.6 486.3,128.6 486.6,127.0 486.5,130.0 486.5,128.5 486.1,130.5 486.4,130.2 486.0,132.0 485.9,132.9 486.4,132.8 485.9,132.8 486.6,132.8 487.1,132.3 486.0,132.6 486.6,132.5 486.3,131.3 486.4,130.4 485.6,130.8 486.6,129.7 486.3,129.2 486.5,128.3 486.9,126.6 486.7,126.5 486.5,127.6 486.3,125.9 486.4,126.0 486.3,123.7 486.8,124.0 486.6,124.3 486.4,122.7 486.8,122.7 486.6,122.5 487.5,120.9 487.4,119.2 487.3,119.8 486.8,119.2 486.6,117.9 486.7,119.1 487.2,117.4 486.7,116.5 486.5,117.6 487.1,115.9 486.8,114.5 487.4,115.1 486.6,114.7 486.6,113.8 486.7,112.5 487.2,112.5 487.4,111.0 487.6,111.9 487.0,110.7 486.8,109.7 486.6,109.3 487.2,109.5 487.4,108.5 487.0,107.2 487.0,106.9 486.5,106.7 486.7,105.3 487.2,104.7 488.0,104.4 488.3,104.6 487.9,103.5 488.8,102.5 488.6,101.7 488.9,101.3 489.2,101.6 489.9,100.4 489.8,100.4 489.9,98.5 490.5,99.2 490.6,99.8 491.0,100.4 490.8,102.8 490.3,103.4 490.5,101.8 491.1,104.1 491.0,102.6 491.1,104.7 491.1,105.4 490.8,105.8 492.2,106.6 491.7,104.5 492.1,105.1 492.4,103.0 492.5,103.3 493.1,103.4 493.0,102.8 492.9,102.5 493.1,101.1 493.8,99.6 493.5,98.5 494.0,99.0 494.1,98.8 493.7,97.9 494.7,97.2 495.2,97.9 495.0,95.5 495.2,95.6 495.8,94.4 496.4,93.8 496.8,94.4 497.2,95.0 497.6,93.5 498.6,94.2 498.7,93.8 499.6,94.0 500.5,93.1 500.3,92.6 499.6,92.4 501.1,91.5 501.1,90.3 501.5,92.1 501.9,92.8 501.4,92.1 502.7,92.9 502.4,93.0 503.7,93.1 503.3,93.7 503.8,95.4 504.3,93.0 504.7,93.3 504.2,94.2 504.5,91.6 504.4,91.3 504.4,91.0 505.2,90.8 504.6,91.8 504.8,89.4 505.3,89.1 505.3,88.3 506.3,88.6 505.5,89.4 505.8,89.5 506.4,90.6 506.5,91.5 506.7,90.6 507.3,91.8 507.7,92.2 507.7,93.5 506.8,92.8 507.6,95.4 507.6,95.6 509.0,95.8 509.4,95.6 509.6,96.6 510.2,97.3 510.5,96.9 510.8,98.1 510.9,97.4 511.8,98.4 512.3,97.4 512.8,99.5 513.6,98.8 513.7,100.9 514.4,101.9 515.1,100.8 515.4,101.8 515.2,103.6 515.5,102.5 515.9,103.1 516.7,104.5 517.1,105.1 516.7,106.1 516.9,105.6 517.4,106.5 518.1,106.6 518.1,107.6 517.8,107.5 518.4,109.1 518.8,109.8 518.9,109.8 519.2,110.1 518.8,111.1 519.0,111.7 519.3,112.2 519.6,112.7 519.5,112.6 519.8,113.8 519.9,113.1 519.6,115.8 519.1,116.0 520.0,116.9 519.5,117.6 520.1,117.3 520.4,118.6 520.2,118.9 520.4,119.9 520.7,120.7 520.1,120.8 520.7,121.4 520.6,122.6 520.4,121.2 520.6,123.5 520.6,123.5 521.1,124.5 520.5,124.7 520.9,125.1 520.5,127.8 521.4,127.8 521.4,128.1 520.5,129.1 521.5,129.3 520.5,130.4 521.7,129.8 521.3,131.3 521.3,132.1 521.4,132.5 521.5,130.4 521.1,132.9 521.6,131.1 521.9,130.7 521.7,128.6 521.6,127.1 521.5,128.4 520.9,127.3 521.9,127.4 521.4,125.5 521.1,124.6 521.9,126.1 521.4,125.1 521.9,123.2 522.6,121.2 521.8,122.5 522.6,122.9 522.7,121.2 522.3,121.4 522.1,120.1 521.9,119.0 521.6,120.0 521.9,116.6 522.1,117.4 522.1,118.1 522.1,116.1 521.9,115.6 522.0,115.2 523.3,114.7 521.9,115.1 522.5,113.8 522.5,113.2 522.5,113.0 522.7,112.3 522.2,110.7 522.2,110.8 522.8,109.2 522.7,110.7 523.0,107.5 522.6,108.1 522.7,107.3 523.2,106.6 522.4,106.2 522.8,105.2 522.7,103.6 522.5,103.6 522.6,101.4 523.4,101.8 522.9,102.4 522.3,102.3 522.9,101.2 523.1,100.3 523.3,99.5 523.0,99.0 523.9,101.5 524.0,101.5 524.6,101.9 525.2,101.1 525.3,102.6 525.4,102.6 525.5,103.0 525.7,106.0 527.0,104.8 527.0,104.7 526.1,104.6 527.4,107.3 527.6,106.2 527.9,106.7 527.8,107.8 528.4,107.9 528.6,108.3 529.3,110.5 529.8,111.5 529.9,110.7 530.6,110.8 531.5,111.6 532.3,111.2 532.0,111.9 533.1,112.0 533.9,114.0 533.7,113.6 535.1,112.5 535.4,113.2 535.4,113.8 536.5,112.1 537.2,112.4 537.8,112.0 538.1,110.4 538.4,110.9 538.1,111.9 539.4,109.3 539.3,109.6 540.4,108.5 540.7,107.8 540.9,108.9 541.3,110.1 541.8,110.3 542.4,111.7 542.8,111.6 542.9,111.4 543.2,112.9 543.7,112.7 543.5,112.4 544.4,114.7 544.8,113.5 544.9,115.2 545.0,115.8 545.6,115.5 545.6,117.2 546.5,116.6 546.4,118.3 547.3,118.0 547.9,118.6 547.3,119.0 547.9,117.9 548.3,116.4 548.1,116.4 549.3,115.3 549.5,115.6 549.0,115.1 549.8,113.7 549.2,114.0 549.8,113.5 549.8,113.7 550.5,113.3 551.0,115.0 551.1,114.6 551.7,114.8 551.9,115.7 552.4,115.4 552.1,114.4 552.1,112.7 552.7,113.3 552.2,111.6 553.0,112.1 552.2,111.6 553.3,110.5 553.0,109.6 552.7,110.0 554.1,108.8 553.1,108.6 553.2,108.0 553.7,106.2 553.2,106.2 554.0,105.8 554.2,104.1 554.1,104.0 554.1,104.0 553.8,103.1 553.9,102.8 554.1,101.7 554.5,101.0 554.8,100.4 554.7,100.4 554.1,99.4 554.2,98.7 554.4,99.6 554.3,98.8 554.6,96.3 553.7,97.0 553.8,96.4 554.9,95.6 554.4,94.6 554.6,93.9 554.3,93.3 554.9,92.5 554.7,91.5 554.3,90.8 554.5,91.6 554.7,90.2 554.8,89.7 554.7,89.5 554.8,87.0 554.2,88.6 554.6,89.0 554.6,86.5 555.1,86.7 555.3,86.0 554.6,85.6 554.4,84.2 554.5,83.7 555.0,82.9 554.8,82.3 555.0,80.2 554.6,81.6 554.4,81.5 554.8,81.1 555.1,80.1 554.7,78.3 554.7,78.1 554.9,77.5 555.8,76.1 555.2,76.3 554.7,76.6 554.8,74.6 555.0,74.7 554.1,74.3 554.5,73.1 555.0,73.2 554.8,73.8 555.0,71.4 555.0,71.1 554.1,69.5 554.4,71.3 554.8,69.2 554.7,69.4 554.9,69.3 555.2,68.6 554.9,67.2 554.8,66.2 554.4,65.3 554.6,64.7 555.4,64.7 555.4,64.5 555.3,64.0 554.8,63.2 554.9,61.7 555.4,62.9 554.7,62.1 555.3,59.7 555.1,59.9 555.2,58.8 554.6,58.5 555.4,58.4 555.3,58.0 554.8,56.6 555.2,56.7 555.2,55.8 555.2,56.3 554.4,54.2 556.0,53.8 554.5,53.1 554.7,52.0 555.2,53.0 555.3,51.7 555.5,50.7 554.9,49.9 555.3,49.2 555.0,48.5 554.8,47.5 555.3,47.3 555.3,47.9 555.5,46.3 555.0,45.0 555.5,44.5 555.6,43.8 555.5,43.8 555.8,43.0 555.4,42.8 555.5,43.2 555.5,41.1 555.5,41.2 555.7,40.7 555.2,41.3 556.3,39.0 555.3,38.5 555.8,36.3 555.7,36.2 555.9,37.5 556.1,34.9 556.3,35.9 555.7,35.1 556.4,33.9 555.9,33.1 556.3,31.4 556.4,31.6 556.3,30.6 555.7,30.7 556.3,29.4 556.2,29.4 556.5,29.0 556.2,28.5 556.7,27.8 556.1,28.7 556.2,27.2 555.9,26.3 555.4,25.6 556.0,23.9 555.7,25.0 556.4,22.6 556.9,22.6 556.2,22.6 555.9,20.7 556.1,22.0 556.7,19.5 556.8,19.9 556.6,19.3 556.6,18.0 556.1,17.6 556.3,17.9 556.1,17.9 556.3,15.8 556.8,17.1 556.4,16.7 556.2,17.0 557.0,19.4 557.2,19.6 556.7,20.4 557.0,20.4 556.8,22.6 556.1,20.8 556.4,22.9 557.1,22.8 557.0,23.6 556.9,23.9 556.8,24.9 557.2,27.0 556.2,26.5 556.9,27.4 557.2,27.9 557.2,27.4 556.3,29.7 557.3,28.6 557.4,30.3 556.1,31.1 556.6,31.8 556.7,31.2 556.5,32.1 557.3,32.4 556.4,34.9 557.6,34.6 556.8,33.9 556.5,35.7 557.5,35.2 557.1,36.4 557.0,37.5 557.8,37.3 557.4,39.1 557.0,38.9 556.7,40.3 556.9,39.8 557.2,40.3 556.8,41.2 557.7,41.9 557.3,41.7 556.5,44.5 557.1,42.9 557.2,44.9 556.6,44.5 557.3,45.1 557.5,47.0 557.4,46.7 557.2,47.1 557.2,48.4 557.2,49.4 558.2,49.0 557.4,50.6 557.5,50.4 557.2,51.9 557.6,52.1 557.1,52.8 557.7,52.9 557.6,55.1 556.8,54.6 557.1,53.9 557.4,55.8 557.5,55.2 557.0,56.2 557.5,56.6 557.0,59.0 557.3,58.3 557.4,58.6 557.6,59.4 557.8,59.4 557.1,62.1 557.6,61.9 558.1,62.4 557.7,61.5 557.2,63.9 558.0,64.2 557.2,63.0 557.4,64.2 557.8,64.9 558.3,65.8 557.6,67.4 558.0,66.8 558.1,69.3 557.5,68.4 557.5,67.9 558.1,70.3 558.3,70.7 557.3,71.0 557.8,70.8 557.6,72.7 557.9,74.1 558.2,72.1 558.4,74.8 558.1,73.8 558.7,74.3 558.1,74.5 557.7,75.2 558.5,77.8 558.0,76.7 558.2,78.5 557.7,78.0 558.2,79.9 558.3,80.3 557.8,78.9 558.4,80.6 558.3,81.5 558.5,81.9 558.8,83.0 558.5,84.0 558.7,84.5 557.8,84.4 559.1,85.7 558.6,86.3 558.2,86.1 558.2,88.0 558.6,89.0 558.7,89.7 558.7,88.2 559.1,89.8 559.0,90.3 558.5,90.9 558.2,90.6 558.3,91.6 558.2,92.5 558.8,94.6 559.3,93.8 559.0,94.2 558.9,95.0 558.5,95.7 558.2,96.5 558.7,96.1 558.7,97.8 558.6,98.3 559.0,99.7 558.5,99.1 559.0,100.8 559.0,100.9 558.4,100.6 559.5,101.4 559.7,101.7 558.9,101.7 559.2,103.6 559.7,104.1 559.0,103.6 559.2,105.9 559.5,106.7 559.7,106.4 559.7,107.2 559.1,108.9 559.8,107.6 559.9,109.2 560.2,110.6 558.9,110.6 560.6,110.2 559.5,111.6 560.4,112.3 559.9,112.3 560.5,113.8 561.3,114.1 560.4,112.9 561.1,115.1 560.8,115.1 561.2,115.1 561.0,117.1 561.4,118.5 561.5,118.2 562.1,117.6 562.0,119.2 562.7,119.2 562.9,120.5 562.4,119.8 562.7,121.5 563.5,122.4 564.0,122.1 564.4,123.6 564.7,123.7 564.6,124.0 565.1,123.3 565.9,124.6 566.5,124.6 566.7,125.4 567.2,124.6 568.0,127.0 568.5,125.4 569.8,127.5 569.9,126.4 570.7,128.7 571.4,127.5 572.2,125.7 572.2,126.4 573.3,127.6 574.3,127.7 574.4,128.2 574.9,130.0 575.5,129.7 576.5,128.6 576.9,128.6 577.4,128.8 578.0,128.2 579.2,128.1 579.6,129.3 580.2,128.7 581.1,129.0 581.8,127.4 582.5,128.6 581.8,128.4 582.5,129.0 582.9,128.8 583.9,130.1 583.8,130.3 584.5,131.1 584.9,131.3 585.6,130.9 585.5,132.6 585.9,132.6 586.3,132.8 587.4,132.1 587.4,132.1 587.9,130.1 588.6,130.9 588.8,131.2 589.5,130.0 589.2,128.8 590.5,130.3 591.2,130.8 591.3,130.1 591.6,131.2 592.1,132.2 592.5,130.7 593.5,131.0 594.7,131.9 594.7,132.7 595.0,131.9 595.2,134.0 596.8,135.2 596.5,134.4 597.6,134.4 598.0,134.1 599.1,133.8 599.9,133.1 600.5,132.5 600.9,131.6 600.7,133.6 601.0,135.4 601.6,135.3 602.3,134.7 601.7,137.4 602.4,135.4 602.8,136.6 603.5,138.8 603.5,139.1 604.0,139.0 605.2,138.4 605.2,138.5 605.5,138.4 606.4,139.9 607.3,137.5 608.5,139.6 608.8,141.0 609.9,139.7 610.1,137.8 611.2,140.7 610.9,139.6 611.2,140.1 611.4,142.4 612.0,142.7 611.7,143.6 612.2,143.5 611.4,143.8 611.6,144.4 612.0,145.8 612.1,146.2 612.0,147.1 612.5,147.9 612.7,147.8 612.1,149.8 612.3,149.5 612.2,150.5 612.2,149.7 612.4,150.7 612.7,151.3 612.5,152.0 612.6,152.4 612.9,152.4 612.4,153.5 612.8,154.6 612.8,153.8 612.4,152.6 612.6,152.4 612.8,152.4 613.1,151.5 612.6,150.3 612.9,150.7 613.6,149.9 613.6,150.5 612.6,149.4 613.4,148.9 613.0,148.1 612.9,146.8 613.1,147.4 613.1,146.3 613.2,144.5 613.5,144.9 613.3,144.2 613.5,142.6 614.0,142.4 613.8,140.9 614.3,141.6 614.3,140.9 614.1,140.5 615.0,139.8 614.8,139.1 615.6,140.0 616.2,139.7 616.5,140.5 617.7,139.8 618.1,140.6 618.4,139.8 619.6,139.7 619.8,140.9 620.7,141.0 621.0,141.9 621.8,141.3 622.6,142.1 623.3,141.6 623.7,141.9 624.0,142.5 625.1,143.5 625.6,142.9 626.7,142.8 627.0,143.1 627.4,142.5 628.7,143.5 629.0,142.6 629.7,144.5 629.9,143.2 631.4,145.0 632.2,143.8 632.5,143.8 633.2,144.2 633.7,145.6 634.5,144.7 635.0,145.2 635.4,145.4 636.4,146.6 636.1,145.0 637.0,146.7 638.8,146.5 638.6,147.6 638.4,147.0 638.7,147.6 640.2,147.5 641.1,147.8 641.7,148.8 641.7,151.2 641.7,150.6 641.9,151.5 642.6,151.3 642.7,153.0 643.0,152.5 642.6,153.8 642.2,153.3 643.0,154.7 643.5,156.1 643.1,155.9 642.6,156.0 643.3,156.6 643.3,157.8 643.1,157.6 642.9,159.4 643.2,158.1 644.0,159.7 644.1,160.2 644.6,161.6 644.1,161.8 644.0,162.9 644.9,162.7 643.9,164.0 644.8,163.2 644.4,164.1 645.0,165.7 644.7,165.1 645.4,165.1 645.6,167.0 646.2,168.3 645.5,168.0 645.8,168.3 646.1,170.0 645.8,169.8 647.0,171.0 646.5,169.4 646.7,168.2 647.6,168.8 647.2,167.2 647.5,167.2 648.5,166.7 648.0,167.1 648.3,165.7 647.4,166.2 648.5,164.3 648.3,163.3 648.2,162.4 648.7,163.2 648.7,162.7 648.9,161.7 648.5,161.4 649.3,160.8 649.4,159.5 648.8,160.1 649.0,158.8 649.2,158.0 649.2,157.0 648.7,158.1 649.4,154.9 649.1,154.8 649.2,153.2 649.6,155.5 649.4,154.3 649.7,152.3 649.9,151.4 649.3,151.8 650.0,151.5 649.5,150.2 649.6,150.2 649.9,150.6 649.9,149.0 649.6,149.5 649.8,147.8 650.3,148.3 649.9,146.5 649.5,146.7 649.6,146.1 649.5,144.9 650.0,144.3 649.9,143.9 649.5,142.2 649.9,143.6 649.9,141.2 649.7,141.2 650.4,140.2 650.2,140.1 649.9,138.8 650.0,138.3 650.3,137.0 650.6,138.1 650.4,138.0 650.5,135.2 650.3,136.1 650.1,134.4 650.5,134.9 650.3,133.8 650.3,133.0 650.5,133.5 650.0,132.0 651.2,131.8 650.7,131.6 650.4,129.6 650.2,128.8 650.9,129.8 650.7,128.1 651.0,128.4 651.0,126.1 650.8,125.1 651.1,125.6 650.8,126.6 651.5,125.3 651.2,124.5 651.0,123.8 651.9,122.6 651.0,122.7 651.6,122.6 651.0,121.3 651.3,120.0 651.5,121.1 651.8,122.3 651.3,122.7 651.5,122.8 651.5,124.6 651.5,123.3 651.4,125.7 652.5,125.0 651.7,126.1 651.4,127.2 651.9,127.8 652.7,128.0 652.2,129.4 651.8,129.0 652.6,130.5 652.1,129.9 652.4,131.7 652.9,132.9 652.5,132.7 652.3,132.8 652.4,133.9 652.6,135.1 652.5,134.6 652.7,136.7 652.2,136.5 652.7,137.2 652.7,137.4 652.6,139.2 653.2,137.7 651.8,139.5 652.5,139.5 652.2,140.7 652.8,140.7 653.1,143.3 653.4,143.1 652.8,143.3 652.9,144.3 653.2,144.1 653.2,144.2 653.3,146.3 653.0,146.3 652.6,147.2 653.5,146.4 653.8,147.8 652.7,147.4 653.6,148.8 653.7,148.5 653.3,150.8 653.2,151.2 653.3,151.6 653.6,153.5 653.1,153.2 654.1,152.5 653.7,155.4 654.1,152.5 653.7,154.0 654.0,155.3 653.7,155.8 654.1,156.7 653.8,157.5 654.3,157.7 654.6,157.7 654.4,159.2 654.8,159.7 654.1,159.8 655.1,161.8 654.1,161.8 654.2,162.4 654.7,159.4 654.7,160.8 654.7,159.9 654.7,159.1 654.9,157.9 655.0,157.9 654.9,156.7 654.6,156.8 655.3,154.4 654.9,156.3 655.4,154.3 655.6,153.5 654.9,154.9 655.1,152.9 654.7,151.7 655.0,151.7 654.8,151.9 655.3,150.2 655.3,150.5 656.1,149.1 656.1,149.9 656.1,148.4 655.2,148.1 655.6,147.1 655.1,146.2 655.9,145.2 655.9,146.3 655.9,144.1 656.7,142.5 655.6,143.7 655.8,141.2 656.1,142.8 655.8,142.6 656.3,141.8 655.6,140.4 656.7,141.2 656.7,139.2 656.3,138.2 656.7,137.5 656.4,136.0 655.9,138.0 656.4,136.3 655.7,135.6 657.2,134.0 655.8,134.3 656.5,133.6 656.4,132.2 656.5,132.9 657.0,132.4 656.7,131.7 657.0,130.7 657.6,130.0 657.2,128.2 657.5,129.3 657.3,128.1 657.0,126.6 657.9,127.8 657.7,125.1 657.8,124.6 657.9,126.3 658.2,125.5 658.5,126.0 658.3,127.0 658.5,126.4 658.6,128.6 657.7,126.8 658.2,130.3 658.6,130.3 658.9,131.1 658.6,130.7 659.0,132.1 659.1,132.5 658.9,133.7 659.3,134.2 658.3,134.8 658.4,134.9 659.1,135.4 659.3,135.7 659.6,136.8 659.3,135.4 659.4,138.1 659.4,138.7 659.7,138.3 660.3,140.7 659.9,140.1 660.4,139.9 659.8,142.2 660.5,141.7 660.2,142.8 660.2,142.8 660.8,142.0 661.4,144.8 661.8,143.9 661.2,144.9 661.4,147.4 661.8,146.4 662.4,147.5 663.1,147.0 663.1,148.4 662.7,149.0 662.8,150.6 663.3,150.7 664.3,150.2 663.9,151.2 664.2,152.2 665.1,151.6 665.2,153.1 665.3,154.3 665.9,153.5 666.3,154.3 667.4,153.6 667.8,152.3 668.6,152.3 668.5,152.9 668.9,153.3 668.8,152.7 669.9,153.6 668.9,153.4 670.7,154.2 670.3,153.0 670.9,150.9 671.2,151.9 672.1,151.4 671.2,151.8 672.5,153.5 672.8,154.1 672.9,153.7 673.6,155.5 674.1,155.6 673.9,152.6 674.2,155.3 674.9,153.6 675.7,153.4 677.3,152.0 676.8,152.2 677.7,153.2 678.0,154.0 679.2,153.9 679.3,154.0 679.3,155.1 680.1,154.8 681.0,155.1 680.8,156.9 681.9,156.4 681.9,157.0 681.9,158.3 681.8,158.1 683.1,156.9 682.9,155.4 683.8,155.7 683.1,155.6 683.4,154.0 683.5,154.9 685.4,153.0 684.7,152.5 685.1,152.8 686.2,151.2 686.2,150.1 686.9,150.8 686.5,151.4 687.1,151.8 687.9,152.6 687.7,152.0 688.5,152.4 689.3,152.6 689.6,154.6 689.0,153.5 689.7,154.4 690.6,155.2 690.9,155.6 691.4,155.7 692.2,154.3 692.4,153.8 692.9,152.8 693.9,153.9 694.0,152.6 694.4,152.3 694.6,153.5 697.0,151.7 696.1,153.2 697.4,151.8 697.2,153.5 697.9,154.3 699.2,153.6 700.1,153.4 700.4,154.2 701.1,154.9 701.0,155.2 701.1,155.7 701.6,158.1 702.3,157.6 702.8,158.7 703.0,158.1 703.2,158.6 704.2,157.6 704.6,160.3 705.8,159.5 706.5,159.1 707.3,160.3 707.7,160.1 708.9,159.6 709.3,159.6 710.1,160.0 711.0,159.9 711.9,160.4 711.7,160.2 712.8,160.3 713.8,161.9 714.0,160.1 714.4,160.7 714.4,161.6 716.4,161.0 716.5,162.4 716.5,161.4 717.5,162.1 717.6,162.1 718.6,162.7 718.6,161.8 719.6,162.1 720.7,162.1 721.9,162.5 721.7,164.1 722.3,163.7 722.2,164.1 722.9,163.7 723.1,163.3 722.7,161.5 723.7,161.2 722.8,162.2 723.2,159.7 723.9,158.9 723.4,159.9 723.5,160.3 724.0,159.8 724.1,157.4 724.0,156.6 724.2,156.2 724.7,154.7 724.3,153.5 725.6,155.5 725.5,156.0 726.4,156.8 726.9,156.9 727.1,157.4 727.0,158.6 727.7,157.6 729.0,158.7 729.7,160.2 730.0,159.4" stroke="#444" stroke-width="0.45"/>
<path d="M390.60,170.00C390.65,169.25 390.67,166.00 390.90,165.50C391.13,165.00 391.52,166.90 392.00,167.00C392.48,167.10 392.93,165.93 393.80,166.10C394.67,166.27 395.88,167.40 397.20,168.00C398.52,168.60 400.20,170.08 401.70,169.70C403.20,169.32 405.08,166.73 406.20,165.70C407.32,164.67 407.65,163.68 408.40,163.50C409.15,163.32 409.95,164.98 410.70,164.60C411.45,164.22 412.10,163.47 412.90,161.20C413.70,158.93 414.82,153.05 415.50,151.00C416.18,148.95 416.57,150.33 417.00,148.90C417.43,147.47 417.73,144.80 418.10,142.40C418.47,140.00 418.82,135.42 419.20,134.50C419.58,133.58 420.02,135.57 420.40,136.90C420.78,138.23 421.15,142.27 421.50,142.50C421.85,142.73 422.10,137.95 422.50,138.30C422.90,138.65 423.43,141.68 423.90,144.60C424.37,147.52 424.83,154.05 425.30,155.80C425.77,157.55 426.23,154.87 426.70,155.10C427.17,155.33 427.63,158.72 428.10,157.20C428.57,155.68 429.03,148.57 429.50,146.00C429.97,143.43 430.43,144.27 430.90,141.80C431.37,139.33 431.68,136.37 432.30,131.20C432.92,126.03 433.98,112.63 434.60,110.80C435.22,108.97 435.40,115.83 436.00,120.20C436.60,124.57 437.50,132.53 438.20,137.00C438.90,141.47 439.50,146.77 440.20,147.00C440.90,147.23 441.57,139.37 442.40,138.40C443.23,137.43 444.35,139.80 445.20,141.20C446.05,142.60 446.80,147.03 447.50,146.80C448.20,146.57 448.62,140.27 449.40,139.80C450.18,139.33 451.40,143.07 452.20,144.00C453.00,144.93 453.40,144.82 454.20,145.40C455.00,145.98 456.17,150.77 457.00,147.50C457.83,144.23 458.45,132.68 459.20,125.80C459.95,118.92 460.75,115.63 461.50,106.20C462.25,96.77 462.92,71.63 463.70,69.20C464.48,66.77 465.48,83.97 466.20,91.60C466.92,99.23 467.53,105.00 468.00,115.00C468.47,125.00 468.48,146.90 469.00,151.60C469.52,156.30 470.37,141.47 471.10,143.20C471.83,144.93 472.70,167.53 473.40,162.00C474.10,156.47 474.82,130.05 475.30,110.00C475.78,89.95 475.98,43.37 476.30,41.70C476.62,40.03 476.92,81.12 477.20,100.00C477.48,118.88 477.50,153.33 478.00,155.00C478.50,156.67 479.65,126.62 480.20,110.00C480.75,93.38 480.83,59.77 481.30,55.30C481.77,50.83 482.48,66.08 483.00,83.20C483.52,100.32 483.90,147.70 484.40,158.00C484.90,168.30 485.48,148.67 486.00,145.00C486.52,141.33 487.00,137.67 487.50,136.00C488.00,134.33 488.25,133.72 489.00,135.00C489.75,136.28 491.27,144.70 492.00,143.70C492.73,142.70 492.93,133.78 493.40,129.00C493.87,124.22 494.10,120.93 494.80,115.00C495.50,109.07 496.67,100.83 497.60,93.40C498.53,85.97 499.75,69.30 500.40,70.40C501.05,71.50 501.03,88.25 501.50,100.00C501.97,111.75 502.62,140.90 503.20,140.90C503.78,140.90 504.52,114.53 505.00,100.00C505.48,85.47 505.68,55.37 506.10,53.70C506.52,52.03 506.82,75.70 507.50,90.00C508.18,104.30 509.45,137.83 510.20,139.50C510.95,141.17 511.47,110.70 512.00,100.00C512.53,89.30 512.90,77.63 513.40,75.30C513.90,72.97 514.40,80.22 515.00,86.00C515.60,91.78 516.40,102.83 517.00,110.00C517.60,117.17 517.93,120.17 518.60,129.00C519.27,137.83 520.35,166.17 521.00,163.00C521.65,159.83 521.98,125.42 522.50,110.00C523.02,94.58 523.48,73.83 524.10,70.50C524.72,67.17 525.57,86.97 526.20,90.00C526.83,93.03 527.32,85.20 527.90,88.70C528.48,92.20 528.90,103.72 529.70,111.00C530.50,118.28 531.65,133.57 532.70,132.40C533.75,131.23 535.05,101.40 536.00,104.00C536.95,106.60 537.58,149.73 538.40,148.00C539.22,146.27 540.10,95.73 540.90,93.60C541.70,91.47 542.47,130.13 543.20,135.20C543.93,140.27 544.60,122.03 545.30,124.00C546.00,125.97 546.58,148.17 547.40,147.00C548.22,145.83 549.33,114.83 550.20,117.00C551.07,119.17 551.90,162.83 552.60,160.00C553.30,157.17 553.97,118.33 554.40,100.00C554.83,81.67 554.93,61.40 555.20,50.00C555.47,38.60 555.70,31.60 556.00,31.60C556.30,31.60 556.50,38.60 557.00,50.00C557.50,61.40 558.42,89.43 559.00,100.00C559.58,110.57 559.87,110.23 560.50,113.40C561.13,116.57 561.95,117.72 562.80,119.00C563.65,120.28 564.55,121.57 565.60,121.10C566.65,120.63 568.05,115.85 569.10,116.20C570.15,116.55 570.97,120.52 571.90,123.20C572.83,125.88 573.77,133.47 574.70,132.30C575.63,131.13 576.57,117.72 577.50,116.20C578.43,114.68 579.37,121.10 580.30,123.20C581.23,125.30 582.17,126.12 583.10,128.80C584.03,131.48 585.08,140.35 585.90,139.30C586.72,138.25 587.30,123.20 588.00,122.50C588.70,121.80 589.28,136.15 590.10,135.10C590.92,134.05 592.08,118.42 592.90,116.20C593.72,113.98 594.30,118.65 595.00,121.80C595.70,124.95 596.40,133.90 597.10,135.10C597.80,136.30 598.55,129.02 599.20,129.00C599.85,128.98 600.37,134.67 601.00,135.00C601.63,135.33 602.33,131.00 603.00,131.00C603.67,131.00 604.33,133.17 605.00,135.00C605.67,136.83 606.40,139.50 607.00,142.00C607.60,144.50 608.02,152.33 608.60,150.00C609.18,147.67 609.98,132.18 610.50,128.00C611.02,123.82 611.28,123.23 611.70,124.90C612.12,126.57 612.62,133.65 613.00,138.00C613.38,142.35 613.67,152.17 614.00,151.00C614.33,149.83 614.67,134.50 615.00,131.00C615.33,127.50 615.50,129.67 616.00,130.00C616.50,130.33 617.17,131.83 618.00,133.00C618.83,134.17 620.17,136.33 621.00,137.00C621.83,137.67 622.00,136.83 623.00,137.00C624.00,137.17 625.67,137.67 627.00,138.00C628.33,138.33 629.67,138.33 631.00,139.00C632.33,139.67 634.00,142.17 635.00,142.00C636.00,141.83 636.33,137.83 637.00,138.00C637.67,138.17 638.53,142.00 639.00,143.00C639.47,144.00 639.37,143.73 639.80,144.00C640.23,144.27 641.10,143.10 641.60,144.60C642.10,146.10 642.52,146.43 642.80,153.00C643.08,159.57 643.03,179.45 643.30,184.00C643.57,188.55 643.87,181.73 644.40,180.30C644.93,178.87 645.92,176.92 646.50,175.40C647.08,173.88 647.43,173.30 647.90,171.20C648.37,169.10 648.95,164.67 649.30,162.80C649.65,160.93 649.53,158.60 650.00,160.00C650.47,161.40 651.52,169.80 652.10,171.20C652.68,172.60 653.03,170.27 653.50,168.40C653.97,166.53 654.48,164.73 654.90,160.00C655.32,155.27 655.58,147.50 656.00,140.00C656.42,132.50 657.00,120.40 657.40,115.00C657.80,109.60 658.07,107.60 658.40,107.60C658.73,107.60 658.80,111.27 659.40,115.00C660.00,118.73 661.27,125.27 662.00,130.00C662.73,134.73 663.23,140.23 663.80,143.40C664.37,146.57 664.83,146.95 665.40,149.00C665.97,151.05 666.30,155.78 667.20,155.70C668.10,155.62 669.75,148.35 670.80,148.50C671.85,148.65 672.65,154.05 673.50,156.60C674.35,159.15 675.15,165.00 675.90,163.80C676.65,162.60 677.35,150.30 678.00,149.40C678.65,148.50 679.13,154.50 679.80,158.40C680.47,162.30 681.25,174.00 682.00,172.80C682.75,171.60 683.52,156.30 684.30,151.20C685.08,146.10 685.95,142.65 686.70,142.20C687.45,141.75 688.00,145.20 688.80,148.50C689.60,151.80 690.60,161.25 691.50,162.00C692.40,162.75 693.28,154.65 694.20,153.00C695.12,151.35 696.15,151.43 697.00,152.10C697.85,152.77 698.78,156.60 699.30,157.00C699.82,157.40 699.73,154.57 700.10,154.50C700.47,154.43 701.03,155.78 701.50,156.60C701.97,157.42 702.32,159.63 702.90,159.40C703.48,159.17 704.18,155.78 705.00,155.20C705.82,154.62 706.63,155.67 707.80,155.90C708.97,156.13 710.60,156.43 712.00,156.60C713.40,156.77 714.80,157.02 716.20,156.90C717.60,156.78 719.35,155.72 720.40,155.90C721.45,156.08 722.03,157.42 722.50,158.00C722.97,158.58 722.85,159.98 723.20,159.40C723.55,158.82 724.02,154.85 724.60,154.50C725.18,154.15 726.00,156.48 726.70,157.30C727.40,158.12 728.25,158.95 728.80,159.40C729.35,159.85 729.80,159.90 730.00,160.00" stroke="#f00" stroke-width="0.85"/>
</g>
<g stroke="#222" stroke-width="0.8"><line x1="23.52" y1="203" x2="23.52" y2="199.9"/><line x1="23.52" y1="4" x2="23.52" y2="7.1"/><line x1="33.69" y1="203" x2="33.69" y2="199.9"/><line x1="33.69" y1="4" x2="33.69" y2="7.1"/><line x1="43.86" y1="203" x2="43.86" y2="199.9"/><line x1="43.86" y1="4" x2="43.86" y2="7.1"/><line x1="54.03" y1="203" x2="54.03" y2="199.9"/><line x1="54.03" y1="4" x2="54.03" y2="7.1"/><line x1="64.20" y1="203" x2="64.20" y2="198.4"/><line x1="64.20" y1="4" x2="64.20" y2="8.6"/><line x1="74.37" y1="203" x2="74.37" y2="199.9"/><line x1="74.37" y1="4" x2="74.37" y2="7.1"/><line x1="84.54" y1="203" x2="84.54" y2="199.9"/><line x1="84.54" y1="4" x2="84.54" y2="7.1"/><line x1="94.71" y1="203" x2="94.71" y2="199.9"/><line x1="94.71" y1="4" x2="94.71" y2="7.1"/><line x1="104.88" y1="203" x2="104.88" y2="199.9"/><line x1="104.88" y1="4" x2="104.88" y2="7.1"/><line x1="115.05" y1="203" x2="115.05" y2="198.4"/><line x1="115.05" y1="4" x2="115.05" y2="8.6"/><line x1="125.22" y1="203" x2="125.22" y2="199.9"/><line x1="125.22" y1="4" x2="125.22" y2="7.1"/><line x1="135.39" y1="203" x2="135.39" y2="199.9"/><line x1="135.39" y1="4" x2="135.39" y2="7.1"/><line x1="145.56" y1="203" x2="145.56" y2="199.9"/><line x1="145.56" y1="4" x2="145.56" y2="7.1"/><line x1="155.73" y1="203" x2="155.73" y2="199.9"/><line x1="155.73" y1="4" x2="155.73" y2="7.1"/><line x1="165.90" y1="203" x2="165.90" y2="198.4"/><line x1="165.90" y1="4" x2="165.90" y2="8.6"/><line x1="176.07" y1="203" x2="176.07" y2="199.9"/><line x1="176.07" y1="4" x2="176.07" y2="7.1"/><line x1="186.24" y1="203" x2="186.24" y2="199.9"/><line x1="186.24" y1="4" x2="186.24" y2="7.1"/><line x1="196.41" y1="203" x2="196.41" y2="199.9"/><line x1="196.41" y1="4" x2="196.41" y2="7.1"/><line x1="206.58" y1="203" x2="206.58" y2="199.9"/><line x1="206.58" y1="4" x2="206.58" y2="7.1"/><line x1="216.75" y1="203" x2="216.75" y2="198.4"/><line x1="216.75" y1="4" x2="216.75" y2="8.6"/><line x1="226.92" y1="203" x2="226.92" y2="199.9"/><line x1="226.92" y1="4" x2="226.92" y2="7.1"/><line x1="237.09" y1="203" x2="237.09" y2="199.9"/><line x1="237.09" y1="4" x2="237.09" y2="7.1"/><line x1="247.26" y1="203" x2="247.26" y2="199.9"/><line x1="247.26" y1="4" x2="247.26" y2="7.1"/><line x1="257.43" y1="203" x2="257.43" y2="199.9"/><line x1="257.43" y1="4" x2="257.43" y2="7.1"/><line x1="267.60" y1="203" x2="267.60" y2="198.4"/><line x1="267.60" y1="4" x2="267.60" y2="8.6"/><line x1="277.77" y1="203" x2="277.77" y2="199.9"/><line x1="277.77" y1="4" x2="277.77" y2="7.1"/><line x1="287.94" y1="203" x2="287.94" y2="199.9"/><line x1="287.94" y1="4" x2="287.94" y2="7.1"/><line x1="298.11" y1="203" x2="298.11" y2="199.9"/><line x1="298.11" y1="4" x2="298.11" y2="7.1"/><line x1="308.28" y1="203" x2="308.28" y2="199.9"/><line x1="308.28" y1="4" x2="308.28" y2="7.1"/><line x1="318.45" y1="203" x2="318.45" y2="198.4"/><line x1="318.45" y1="4" x2="318.45" y2="8.6"/><line x1="328.62" y1="203" x2="328.62" y2="199.9"/><line x1="328.62" y1="4" x2="328.62" y2="7.1"/><line x1="338.79" y1="203" x2="338.79" y2="199.9"/><line x1="338.79" y1="4" x2="338.79" y2="7.1"/><line x1="348.96" y1="203" x2="348.96" y2="199.9"/><line x1="348.96" y1="4" x2="348.96" y2="7.1"/><line x1="359.13" y1="203" x2="359.13" y2="199.9"/><line x1="359.13" y1="4" x2="359.13" y2="7.1"/><line x1="22" y1="10.50" x2="25.0" y2="10.50"/><line x1="361" y1="10.50" x2="358.0" y2="10.50"/><line x1="22" y1="21.50" x2="26.3" y2="21.50"/><line x1="361" y1="21.50" x2="356.7" y2="21.50"/><line x1="22" y1="32.50" x2="25.0" y2="32.50"/><line x1="361" y1="32.50" x2="358.0" y2="32.50"/><line x1="22" y1="43.50" x2="26.3" y2="43.50"/><line x1="361" y1="43.50" x2="356.7" y2="43.50"/><line x1="22" y1="54.50" x2="25.0" y2="54.50"/><line x1="361" y1="54.50" x2="358.0" y2="54.50"/><line x1="22" y1="65.50" x2="26.3" y2="65.50"/><line x1="361" y1="65.50" x2="356.7" y2="65.50"/><line x1="22" y1="76.50" x2="25.0" y2="76.50"/><line x1="361" y1="76.50" x2="358.0" y2="76.50"/><line x1="22" y1="87.50" x2="26.3" y2="87.50"/><line x1="361" y1="87.50" x2="356.7" y2="87.50"/><line x1="22" y1="98.50" x2="25.0" y2="98.50"/><line x1="361" y1="98.50" x2="358.0" y2="98.50"/><line x1="22" y1="109.50" x2="26.3" y2="109.50"/><line x1="361" y1="109.50" x2="356.7" y2="109.50"/><line x1="22" y1="121.50" x2="25.0" y2="121.50"/><line x1="361" y1="121.50" x2="358.0" y2="121.50"/><line x1="22" y1="132.50" x2="26.3" y2="132.50"/><line x1="361" y1="132.50" x2="356.7" y2="132.50"/><line x1="22" y1="143.50" x2="25.0" y2="143.50"/><line x1="361" y1="143.50" x2="358.0" y2="143.50"/><line x1="22" y1="154.50" x2="26.3" y2="154.50"/><line x1="361" y1="154.50" x2="356.7" y2="154.50"/><line x1="22" y1="165.50" x2="25.0" y2="165.50"/><line x1="361" y1="165.50" x2="358.0" y2="165.50"/><line x1="22" y1="176.50" x2="26.3" y2="176.50"/><line x1="361" y1="176.50" x2="356.7" y2="176.50"/><line x1="22" y1="187.50" x2="25.0" y2="187.50"/><line x1="361" y1="187.50" x2="358.0" y2="187.50"/><line x1="22" y1="198.50" x2="26.3" y2="198.50"/><line x1="361" y1="198.50" x2="356.7" y2="198.50"/></g>
<rect x="21.5" y="3.5" width="340" height="200" fill="none" stroke="#c6c6c6" stroke-width="1"/>
<text x="64.20" y="209.5" class="tl" text-anchor="middle" textLength="14.2" lengthAdjust="spacingAndGlyphs">4000</text>
<text x="115.05" y="209.5" class="tl" text-anchor="middle" textLength="14.2" lengthAdjust="spacingAndGlyphs">5000</text>
<text x="165.90" y="209.5" class="tl" text-anchor="middle" textLength="14.2" lengthAdjust="spacingAndGlyphs">6000</text>
<text x="216.75" y="209.5" class="tl" text-anchor="middle" textLength="14.2" lengthAdjust="spacingAndGlyphs">7000</text>
<text x="267.60" y="209.5" class="tl" text-anchor="middle" textLength="14.2" lengthAdjust="spacingAndGlyphs">8000</text>
<text x="318.45" y="209.5" class="tl" text-anchor="middle" textLength="14.2" lengthAdjust="spacingAndGlyphs">9000</text>
<g stroke="#222" stroke-width="0.8"><line x1="393.26" y1="203" x2="393.26" y2="199.9"/><line x1="393.26" y1="5" x2="393.26" y2="8.1"/><line x1="402.97" y1="203" x2="402.97" y2="199.9"/><line x1="402.97" y1="5" x2="402.97" y2="8.1"/><line x1="412.68" y1="203" x2="412.68" y2="199.9"/><line x1="412.68" y1="5" x2="412.68" y2="8.1"/><line x1="422.39" y1="203" x2="422.39" y2="199.9"/><line x1="422.39" y1="5" x2="422.39" y2="8.1"/><line x1="432.10" y1="203" x2="432.10" y2="198.4"/><line x1="432.10" y1="5" x2="432.10" y2="9.6"/><line x1="441.81" y1="203" x2="441.81" y2="199.9"/><line x1="441.81" y1="5" x2="441.81" y2="8.1"/><line x1="451.52" y1="203" x2="451.52" y2="199.9"/><line x1="451.52" y1="5" x2="451.52" y2="8.1"/><line x1="461.23" y1="203" x2="461.23" y2="199.9"/><line x1="461.23" y1="5" x2="461.23" y2="8.1"/><line x1="470.94" y1="203" x2="470.94" y2="199.9"/><line x1="470.94" y1="5" x2="470.94" y2="8.1"/><line x1="480.65" y1="203" x2="480.65" y2="198.4"/><line x1="480.65" y1="5" x2="480.65" y2="9.6"/><line x1="490.36" y1="203" x2="490.36" y2="199.9"/><line x1="490.36" y1="5" x2="490.36" y2="8.1"/><line x1="500.07" y1="203" x2="500.07" y2="199.9"/><line x1="500.07" y1="5" x2="500.07" y2="8.1"/><line x1="509.78" y1="203" x2="509.78" y2="199.9"/><line x1="509.78" y1="5" x2="509.78" y2="8.1"/><line x1="519.49" y1="203" x2="519.49" y2="199.9"/><line x1="519.49" y1="5" x2="519.49" y2="8.1"/><line x1="529.20" y1="203" x2="529.20" y2="198.4"/><line x1="529.20" y1="5" x2="529.20" y2="9.6"/><line x1="538.91" y1="203" x2="538.91" y2="199.9"/><line x1="538.91" y1="5" x2="538.91" y2="8.1"/><line x1="548.62" y1="203" x2="548.62" y2="199.9"/><line x1="548.62" y1="5" x2="548.62" y2="8.1"/><line x1="558.33" y1="203" x2="558.33" y2="199.9"/><line x1="558.33" y1="5" x2="558.33" y2="8.1"/><line x1="568.04" y1="203" x2="568.04" y2="199.9"/><line x1="568.04" y1="5" x2="568.04" y2="8.1"/><line x1="577.75" y1="203" x2="577.75" y2="198.4"/><line x1="577.75" y1="5" x2="577.75" y2="9.6"/><line x1="587.46" y1="203" x2="587.46" y2="199.9"/><line x1="587.46" y1="5" x2="587.46" y2="8.1"/><line x1="597.17" y1="203" x2="597.17" y2="199.9"/><line x1="597.17" y1="5" x2="597.17" y2="8.1"/><line x1="606.88" y1="203" x2="606.88" y2="199.9"/><line x1="606.88" y1="5" x2="606.88" y2="8.1"/><line x1="616.59" y1="203" x2="616.59" y2="199.9"/><line x1="616.59" y1="5" x2="616.59" y2="8.1"/><line x1="626.30" y1="203" x2="626.30" y2="198.4"/><line x1="626.30" y1="5" x2="626.30" y2="9.6"/><line x1="636.01" y1="203" x2="636.01" y2="199.9"/><line x1="636.01" y1="5" x2="636.01" y2="8.1"/><line x1="645.72" y1="203" x2="645.72" y2="199.9"/><line x1="645.72" y1="5" x2="645.72" y2="8.1"/><line x1="655.43" y1="203" x2="655.43" y2="199.9"/><line x1="655.43" y1="5" x2="655.43" y2="8.1"/><line x1="665.14" y1="203" x2="665.14" y2="199.9"/><line x1="665.14" y1="5" x2="665.14" y2="8.1"/><line x1="674.85" y1="203" x2="674.85" y2="198.4"/><line x1="674.85" y1="5" x2="674.85" y2="9.6"/><line x1="684.56" y1="203" x2="684.56" y2="199.9"/><line x1="684.56" y1="5" x2="684.56" y2="8.1"/><line x1="694.27" y1="203" x2="694.27" y2="199.9"/><line x1="694.27" y1="5" x2="694.27" y2="8.1"/><line x1="703.98" y1="203" x2="703.98" y2="199.9"/><line x1="703.98" y1="5" x2="703.98" y2="8.1"/><line x1="713.69" y1="203" x2="713.69" y2="199.9"/><line x1="713.69" y1="5" x2="713.69" y2="8.1"/><line x1="723.40" y1="203" x2="723.40" y2="198.4"/><line x1="723.40" y1="5" x2="723.40" y2="9.6"/><line x1="391" y1="12.50" x2="394.0" y2="12.50"/><line x1="730" y1="12.50" x2="727.0" y2="12.50"/><line x1="391" y1="26.50" x2="395.3" y2="26.50"/><line x1="730" y1="26.50" x2="725.7" y2="26.50"/><line x1="391" y1="41.50" x2="394.0" y2="41.50"/><line x1="730" y1="41.50" x2="727.0" y2="41.50"/><line x1="391" y1="55.50" x2="395.3" y2="55.50"/><line x1="730" y1="55.50" x2="725.7" y2="55.50"/><line x1="391" y1="69.50" x2="394.0" y2="69.50"/><line x1="730" y1="69.50" x2="727.0" y2="69.50"/><line x1="391" y1="84.50" x2="395.3" y2="84.50"/><line x1="730" y1="84.50" x2="725.7" y2="84.50"/><line x1="391" y1="98.50" x2="394.0" y2="98.50"/><line x1="730" y1="98.50" x2="727.0" y2="98.50"/><line x1="391" y1="112.50" x2="395.3" y2="112.50"/><line x1="730" y1="112.50" x2="725.7" y2="112.50"/><line x1="391" y1="126.50" x2="394.0" y2="126.50"/><line x1="730" y1="126.50" x2="727.0" y2="126.50"/><line x1="391" y1="141.50" x2="395.3" y2="141.50"/><line x1="730" y1="141.50" x2="725.7" y2="141.50"/><line x1="391" y1="155.50" x2="394.0" y2="155.50"/><line x1="730" y1="155.50" x2="727.0" y2="155.50"/><line x1="391" y1="169.50" x2="395.3" y2="169.50"/><line x1="730" y1="169.50" x2="725.7" y2="169.50"/><line x1="391" y1="184.50" x2="394.0" y2="184.50"/><line x1="730" y1="184.50" x2="727.0" y2="184.50"/><line x1="391" y1="198.50" x2="395.3" y2="198.50"/><line x1="730" y1="198.50" x2="725.7" y2="198.50"/></g>
<rect x="390.5" y="4.5" width="340" height="199" fill="none" stroke="#c6c6c6" stroke-width="1"/>
<text x="432.10" y="209.5" class="tl" text-anchor="middle" textLength="14.2" lengthAdjust="spacingAndGlyphs">4000</text>
<text x="480.65" y="209.5" class="tl" text-anchor="middle" textLength="14.2" lengthAdjust="spacingAndGlyphs">5000</text>
<text x="529.20" y="209.5" class="tl" text-anchor="middle" textLength="14.2" lengthAdjust="spacingAndGlyphs">6000</text>
<text x="577.75" y="209.5" class="tl" text-anchor="middle" textLength="14.2" lengthAdjust="spacingAndGlyphs">7000</text>
<text x="626.30" y="209.5" class="tl" text-anchor="middle" textLength="14.2" lengthAdjust="spacingAndGlyphs">8000</text>
<text x="674.85" y="209.5" class="tl" text-anchor="middle" textLength="14.2" lengthAdjust="spacingAndGlyphs">9000</text>
<text x="723.40" y="209.5" class="tl" text-anchor="middle" textLength="17.2" lengthAdjust="spacingAndGlyphs">10000</text>
<rect x="137.5" y="9.5" width="217.5" height="39" rx="2" fill="#fff" fill-opacity="0.8" stroke="#d8d8d8" stroke-width="0.8"/>
<line x1="142" y1="19.8" x2="167" y2="19.8" stroke="#555" stroke-width="0.9"/>
<line x1="142" y1="37.9" x2="167" y2="37.9" stroke="#f22" stroke-width="0.9"/>
<text x="176.7" y="23.8" class="lg1" textLength="51" lengthAdjust="spacingAndGlyphs">SN 2020tlf</text>
<text x="177" y="41.6" class="lg1" textLength="173" lengthAdjust="spacingAndGlyphs">R500<tspan font-size="6.5" dy="-0.8" fill="#777">_</tspan><tspan dy="0.8">MD1em2</tspan><tspan font-size="6.5" dy="-0.8" fill="#777">_</tspan><tspan dy="0.8">r6e15</tspan><tspan font-size="6.5" dy="-0.8" fill="#777">_</tspan><tspan dy="0.8">MG (</tspan><tspan font-style="italic">t</tspan> = 4 d)</text>
<rect x="566.5" y="9" width="159.5" height="26.7" rx="1.5" fill="#fff" fill-opacity="0.8" stroke="#d8d8d8" stroke-width="0.7"/>
<line x1="570" y1="15.3" x2="586.7" y2="15.3" stroke="#555" stroke-width="0.8"/>
<line x1="570" y1="28" x2="586.7" y2="28" stroke="#f22" stroke-width="0.8"/>
<text x="594" y="18.6" class="lg2">SN 2020tlf</text>
<text x="594" y="30.9" class="lg2" textLength="128" lengthAdjust="spacingAndGlyphs">R500<tspan font-size="4.6" dy="-0.5" fill="#777">_</tspan><tspan dy="0.5">MD1em2</tspan><tspan font-size="4.6" dy="-0.5" fill="#777">_</tspan><tspan dy="0.5">r6e15</tspan><tspan font-size="4.6" dy="-0.5" fill="#777">_</tspan><tspan dy="0.5">G</tspan><tspan font-size="4.6" dy="-0.5" fill="#777">_</tspan><tspan dy="0.5">Ni (</tspan><tspan font-style="italic">t</tspan> = 80 d)</text>
<text x="191.2" y="226.6" class="xl" text-anchor="middle" textLength="144" lengthAdjust="spacingAndGlyphs">Rest Wavelength (Å)</text>
<text x="560.5" y="226.6" class="xl" text-anchor="middle" textLength="144" lengthAdjust="spacingAndGlyphs">Rest Wavelength (Å)</text>
<text transform="translate(15.40,183.40) rotate(-90)" class="xl" textLength="56.3" lengthAdjust="spacingAndGlyphs">Relative</text>
<text transform="translate(15.40,117.60) rotate(-90)" class="xl" text-anchor="middle" font-style="italic">f</text>
<text transform="translate(17.80,111.10) rotate(-90) scale(0.85,1)" class="xl" text-anchor="middle" style="font-size:12.2px">λ</text>
<text transform="translate(18.00,96.40) rotate(-90)" class="xl" text-anchor="middle" style="font-size:22px">+</text>
<text transform="translate(15.40,86.20) rotate(-90)" class="xl" textLength="63" lengthAdjust="spacingAndGlyphs">Constant</text>
<text transform="translate(385.40,184.00) rotate(-90)" class="xl" textLength="56.3" lengthAdjust="spacingAndGlyphs">Relative</text>
<text transform="translate(385.40,118.20) rotate(-90)" class="xl" text-anchor="middle" font-style="italic">f</text>
<text transform="translate(387.80,111.70) rotate(-90) scale(0.85,1)" class="xl" text-anchor="middle" style="font-size:12.2px">λ</text>
<text transform="translate(388.00,97.00) rotate(-90)" class="xl" text-anchor="middle" style="font-size:22px">+</text>
<text transform="translate(385.40,86.80) rotate(-90)" class="xl" textLength="63" lengthAdjust="spacingAndGlyphs">Constant</text>
<text x="180.8" y="247.5" class="cap" text-anchor="middle" textLength="14.6" lengthAdjust="spacingAndGlyphs">(<tspan font-weight="bold">a</tspan>)</text>
<text x="550.5" y="247.5" class="cap" text-anchor="middle" textLength="16" lengthAdjust="spacingAndGlyphs">(<tspan font-weight="bold">b</tspan>)</text>
</svg>
</body></html>
